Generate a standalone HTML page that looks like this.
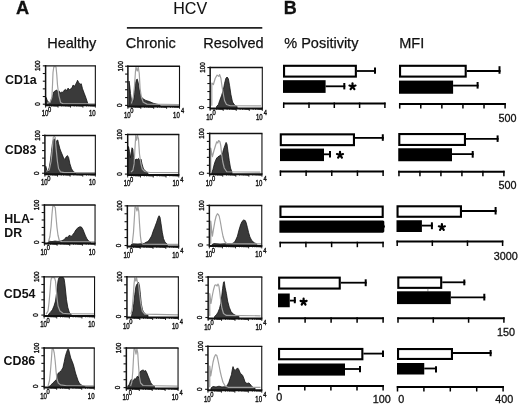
<!DOCTYPE html>
<html><head><meta charset="utf-8"><style>
html,body{margin:0;padding:0;background:#fff;}
body{width:520px;height:405px;overflow:hidden;}
svg{display:block;filter:grayscale(1) blur(0.3px);}
text{font-family:"Liberation Sans", sans-serif;fill:#111;}
</style></head><body>
<svg width="520" height="405" viewBox="0 0 520 405">
<rect width="520" height="405" fill="#fff"/>
<text x="15.95" y="14" font-size="18.2" font-weight="bold" stroke="#111" stroke-width="0.3">A</text>
<text x="283.80" y="14" font-size="18" font-weight="bold" stroke="#111" stroke-width="0.3">B</text>
<text x="173.29" y="14.2" font-size="16" font-weight="normal" stroke="#111" stroke-width="0.1">HCV</text>
<line x1="126.9" y1="27.9" x2="262.3" y2="27.9" stroke="#222" stroke-width="1.6"/>
<text x="47.21" y="48.4" font-size="14.5" font-weight="normal" stroke="#111" stroke-width="0.25">Healthy</text>
<text x="125.86" y="48.4" font-size="14.5" font-weight="normal" stroke="#111" stroke-width="0.25">Chronic</text>
<text x="203.21" y="48.4" font-size="14.5" font-weight="normal" stroke="#111" stroke-width="0.25">Resolved</text>
<text x="284.28" y="48.4" font-size="14.5" font-weight="normal" stroke="#111" stroke-width="0.25">% Positivity</text>
<text x="399.21" y="48.4" font-size="14.5" font-weight="normal" stroke="#111" stroke-width="0.25">MFI</text>
<text x="4.99" y="84" font-size="12.4" font-weight="bold" >CD1a</text>
<text x="4.69" y="153.6" font-size="12.4" font-weight="bold" >CD83</text>
<text x="4.37" y="222.6" font-size="12.4" font-weight="bold" >HLA-</text>
<text x="4.37" y="236.5" font-size="12.4" font-weight="bold" >DR</text>
<text x="3.79" y="297.6" font-size="12.4" font-weight="bold" >CD54</text>
<text x="3.49" y="365" font-size="12.4" font-weight="bold" >CD86</text>
<g id="hist">
<clipPath id="c00"><rect x="45.6" y="65.85" width="49.75" height="39.35"/></clipPath>
<g clip-path="url(#c00)">
<polygon points="46.00,106.2 46.00,103.50 46.20,97.50 47.50,101.25 50.00,103.00 52.50,96.25 53.75,91.90 55.60,90.60 56.90,90.00 58.10,92.50 59.40,91.25 60.60,93.10 61.90,91.90 63.10,92.50 64.40,90.00 65.60,89.40 66.90,90.60 68.10,88.10 69.40,90.00 70.60,88.75 71.90,88.10 73.10,85.00 74.40,86.25 75.60,84.40 76.90,81.90 77.50,80.25 78.75,82.50 80.00,84.40 81.25,83.75 82.50,88.75 84.40,93.75 86.25,98.75 87.75,103.50 87.75,106.2" fill="#3a3a3a" stroke="#111" stroke-width="0.8" stroke-linejoin="round"/>
<polyline points="46.90,103.10 50.00,102.50 51.90,97.50 52.50,85.00 53.00,72.50 53.80,66.75 56.00,66.75 56.80,75.00 57.50,85.00 58.75,95.00 60.60,102.50 63.00,103.80 95.00,103.80" fill="none" stroke="#a0a0a0" stroke-width="1.2" stroke-linejoin="round"/>
</g>
<path d="M45.60,65.10V106.10" stroke="#111" stroke-width="1.5"/>
<path d="M44.85,65.85H95.90" stroke="#111" stroke-width="1.4"/>
<path d="M95.35,65.85V105.20" stroke="#111" stroke-width="1.1"/>
<path d="M45.60,105.20H95.90" stroke="#111" stroke-width="2.0"/>
<line x1="42.80" y1="65.85" x2="45.60" y2="65.85" stroke="#111" stroke-width="1.1"/>
<line x1="42.80" y1="73.52" x2="45.60" y2="73.52" stroke="#111" stroke-width="1.1"/>
<line x1="42.80" y1="81.19" x2="45.60" y2="81.19" stroke="#111" stroke-width="1.1"/>
<line x1="42.80" y1="88.86" x2="45.60" y2="88.86" stroke="#111" stroke-width="1.1"/>
<line x1="42.80" y1="96.53" x2="45.60" y2="96.53" stroke="#111" stroke-width="1.1"/>
<line x1="42.80" y1="104.20" x2="45.60" y2="104.20" stroke="#111" stroke-width="1.1"/>
<line x1="45.60" y1="105.2" x2="45.60" y2="107.60000000000001" stroke="#111" stroke-width="0.9"/>
<line x1="49.34" y1="105.2" x2="49.34" y2="106.5" stroke="#111" stroke-width="0.9"/>
<line x1="51.53" y1="105.2" x2="51.53" y2="106.5" stroke="#111" stroke-width="0.9"/>
<line x1="53.09" y1="105.2" x2="53.09" y2="106.5" stroke="#111" stroke-width="0.9"/>
<line x1="54.29" y1="105.2" x2="54.29" y2="106.5" stroke="#111" stroke-width="0.9"/>
<line x1="55.28" y1="105.2" x2="55.28" y2="106.5" stroke="#111" stroke-width="0.9"/>
<line x1="56.11" y1="105.2" x2="56.11" y2="106.5" stroke="#111" stroke-width="0.9"/>
<line x1="56.83" y1="105.2" x2="56.83" y2="106.5" stroke="#111" stroke-width="0.9"/>
<line x1="57.47" y1="105.2" x2="57.47" y2="106.5" stroke="#111" stroke-width="0.9"/>
<line x1="58.04" y1="105.2" x2="58.04" y2="107.60000000000001" stroke="#111" stroke-width="0.9"/>
<line x1="61.78" y1="105.2" x2="61.78" y2="106.5" stroke="#111" stroke-width="0.9"/>
<line x1="63.97" y1="105.2" x2="63.97" y2="106.5" stroke="#111" stroke-width="0.9"/>
<line x1="65.53" y1="105.2" x2="65.53" y2="106.5" stroke="#111" stroke-width="0.9"/>
<line x1="66.73" y1="105.2" x2="66.73" y2="106.5" stroke="#111" stroke-width="0.9"/>
<line x1="67.72" y1="105.2" x2="67.72" y2="106.5" stroke="#111" stroke-width="0.9"/>
<line x1="68.55" y1="105.2" x2="68.55" y2="106.5" stroke="#111" stroke-width="0.9"/>
<line x1="69.27" y1="105.2" x2="69.27" y2="106.5" stroke="#111" stroke-width="0.9"/>
<line x1="69.91" y1="105.2" x2="69.91" y2="106.5" stroke="#111" stroke-width="0.9"/>
<line x1="70.47" y1="105.2" x2="70.47" y2="107.60000000000001" stroke="#111" stroke-width="0.9"/>
<line x1="74.22" y1="105.2" x2="74.22" y2="106.5" stroke="#111" stroke-width="0.9"/>
<line x1="76.41" y1="105.2" x2="76.41" y2="106.5" stroke="#111" stroke-width="0.9"/>
<line x1="77.96" y1="105.2" x2="77.96" y2="106.5" stroke="#111" stroke-width="0.9"/>
<line x1="79.17" y1="105.2" x2="79.17" y2="106.5" stroke="#111" stroke-width="0.9"/>
<line x1="80.15" y1="105.2" x2="80.15" y2="106.5" stroke="#111" stroke-width="0.9"/>
<line x1="80.99" y1="105.2" x2="80.99" y2="106.5" stroke="#111" stroke-width="0.9"/>
<line x1="81.71" y1="105.2" x2="81.71" y2="106.5" stroke="#111" stroke-width="0.9"/>
<line x1="82.34" y1="105.2" x2="82.34" y2="106.5" stroke="#111" stroke-width="0.9"/>
<line x1="82.91" y1="105.2" x2="82.91" y2="107.60000000000001" stroke="#111" stroke-width="0.9"/>
<line x1="86.66" y1="105.2" x2="86.66" y2="106.5" stroke="#111" stroke-width="0.9"/>
<line x1="88.85" y1="105.2" x2="88.85" y2="106.5" stroke="#111" stroke-width="0.9"/>
<line x1="90.40" y1="105.2" x2="90.40" y2="106.5" stroke="#111" stroke-width="0.9"/>
<line x1="91.61" y1="105.2" x2="91.61" y2="106.5" stroke="#111" stroke-width="0.9"/>
<line x1="92.59" y1="105.2" x2="92.59" y2="106.5" stroke="#111" stroke-width="0.9"/>
<line x1="93.42" y1="105.2" x2="93.42" y2="106.5" stroke="#111" stroke-width="0.9"/>
<line x1="94.14" y1="105.2" x2="94.14" y2="106.5" stroke="#111" stroke-width="0.9"/>
<line x1="94.78" y1="105.2" x2="94.78" y2="106.5" stroke="#111" stroke-width="0.9"/>
<line x1="95.35" y1="105.2" x2="95.35" y2="107.60000000000001" stroke="#111" stroke-width="0.9"/>
<text transform="translate(40.20,65.85) rotate(-90) scale(0.85,1)" font-size="7.4" stroke="#111" stroke-width="0.4" text-anchor="middle">100</text>
<text transform="translate(39.70,104.10) rotate(-90) scale(0.85,1)" font-size="7.4" stroke="#111" stroke-width="0.4" text-anchor="middle">0</text>
<text transform="translate(41.64,116.40) scale(0.74,1)" font-size="8.2" stroke="#111" stroke-width="0.4">10</text>
<text transform="translate(48.00,112.00) scale(0.9,1)" font-size="6.4" stroke="#111" stroke-width="0.35">0</text>
<text transform="translate(88.94,116.40) scale(0.74,1)" font-size="8.2" stroke="#111" stroke-width="0.4">10</text>
<clipPath id="c01"><rect x="127.9" y="66.25" width="51.60" height="40.15"/></clipPath>
<g clip-path="url(#c01)">
<polygon points="129.00,107.4 129.00,105.00 129.00,81.00 129.75,86.00 130.50,93.50 131.40,99.75 132.60,102.25 133.60,99.50 134.50,92.25 135.50,83.50 136.40,79.75 137.25,79.10 138.25,82.90 139.50,91.00 140.75,96.00 142.60,98.50 145.75,100.40 149.50,101.60 153.25,103.25 158.25,104.50 160.00,105.00 160.00,107.4" fill="#3a3a3a" stroke="#111" stroke-width="0.8" stroke-linejoin="round"/>
<polyline points="131.40,103.50 133.25,97.25 134.50,86.00 135.50,71.00 136.00,67.15 137.25,71.00 138.25,67.15 139.25,73.50 140.10,88.50 141.40,97.25 143.25,102.25 147.00,104.10 179.00,104.50" fill="none" stroke="#a0a0a0" stroke-width="1.2" stroke-linejoin="round"/>
</g>
<path d="M127.90,65.50V107.30" stroke="#111" stroke-width="1.5"/>
<path d="M127.15,66.25H180.05" stroke="#111" stroke-width="1.4"/>
<path d="M179.50,66.25V106.40" stroke="#111" stroke-width="1.1"/>
<path d="M127.90,106.40H180.05" stroke="#111" stroke-width="2.0"/>
<line x1="125.10" y1="66.25" x2="127.90" y2="66.25" stroke="#111" stroke-width="1.1"/>
<line x1="125.10" y1="74.08" x2="127.90" y2="74.08" stroke="#111" stroke-width="1.1"/>
<line x1="125.10" y1="81.91" x2="127.90" y2="81.91" stroke="#111" stroke-width="1.1"/>
<line x1="125.10" y1="89.74" x2="127.90" y2="89.74" stroke="#111" stroke-width="1.1"/>
<line x1="125.10" y1="97.57" x2="127.90" y2="97.57" stroke="#111" stroke-width="1.1"/>
<line x1="125.10" y1="105.40" x2="127.90" y2="105.40" stroke="#111" stroke-width="1.1"/>
<line x1="127.90" y1="106.4" x2="127.90" y2="108.80000000000001" stroke="#111" stroke-width="0.9"/>
<line x1="131.78" y1="106.4" x2="131.78" y2="107.7" stroke="#111" stroke-width="0.9"/>
<line x1="134.05" y1="106.4" x2="134.05" y2="107.7" stroke="#111" stroke-width="0.9"/>
<line x1="135.67" y1="106.4" x2="135.67" y2="107.7" stroke="#111" stroke-width="0.9"/>
<line x1="136.92" y1="106.4" x2="136.92" y2="107.7" stroke="#111" stroke-width="0.9"/>
<line x1="137.94" y1="106.4" x2="137.94" y2="107.7" stroke="#111" stroke-width="0.9"/>
<line x1="138.80" y1="106.4" x2="138.80" y2="107.7" stroke="#111" stroke-width="0.9"/>
<line x1="139.55" y1="106.4" x2="139.55" y2="107.7" stroke="#111" stroke-width="0.9"/>
<line x1="140.21" y1="106.4" x2="140.21" y2="107.7" stroke="#111" stroke-width="0.9"/>
<line x1="140.80" y1="106.4" x2="140.80" y2="108.80000000000001" stroke="#111" stroke-width="0.9"/>
<line x1="144.68" y1="106.4" x2="144.68" y2="107.7" stroke="#111" stroke-width="0.9"/>
<line x1="146.95" y1="106.4" x2="146.95" y2="107.7" stroke="#111" stroke-width="0.9"/>
<line x1="148.57" y1="106.4" x2="148.57" y2="107.7" stroke="#111" stroke-width="0.9"/>
<line x1="149.82" y1="106.4" x2="149.82" y2="107.7" stroke="#111" stroke-width="0.9"/>
<line x1="150.84" y1="106.4" x2="150.84" y2="107.7" stroke="#111" stroke-width="0.9"/>
<line x1="151.70" y1="106.4" x2="151.70" y2="107.7" stroke="#111" stroke-width="0.9"/>
<line x1="152.45" y1="106.4" x2="152.45" y2="107.7" stroke="#111" stroke-width="0.9"/>
<line x1="153.11" y1="106.4" x2="153.11" y2="107.7" stroke="#111" stroke-width="0.9"/>
<line x1="153.70" y1="106.4" x2="153.70" y2="108.80000000000001" stroke="#111" stroke-width="0.9"/>
<line x1="157.58" y1="106.4" x2="157.58" y2="107.7" stroke="#111" stroke-width="0.9"/>
<line x1="159.85" y1="106.4" x2="159.85" y2="107.7" stroke="#111" stroke-width="0.9"/>
<line x1="161.47" y1="106.4" x2="161.47" y2="107.7" stroke="#111" stroke-width="0.9"/>
<line x1="162.72" y1="106.4" x2="162.72" y2="107.7" stroke="#111" stroke-width="0.9"/>
<line x1="163.74" y1="106.4" x2="163.74" y2="107.7" stroke="#111" stroke-width="0.9"/>
<line x1="164.60" y1="106.4" x2="164.60" y2="107.7" stroke="#111" stroke-width="0.9"/>
<line x1="165.35" y1="106.4" x2="165.35" y2="107.7" stroke="#111" stroke-width="0.9"/>
<line x1="166.01" y1="106.4" x2="166.01" y2="107.7" stroke="#111" stroke-width="0.9"/>
<line x1="166.60" y1="106.4" x2="166.60" y2="108.80000000000001" stroke="#111" stroke-width="0.9"/>
<line x1="170.48" y1="106.4" x2="170.48" y2="107.7" stroke="#111" stroke-width="0.9"/>
<line x1="172.75" y1="106.4" x2="172.75" y2="107.7" stroke="#111" stroke-width="0.9"/>
<line x1="174.37" y1="106.4" x2="174.37" y2="107.7" stroke="#111" stroke-width="0.9"/>
<line x1="175.62" y1="106.4" x2="175.62" y2="107.7" stroke="#111" stroke-width="0.9"/>
<line x1="176.64" y1="106.4" x2="176.64" y2="107.7" stroke="#111" stroke-width="0.9"/>
<line x1="177.50" y1="106.4" x2="177.50" y2="107.7" stroke="#111" stroke-width="0.9"/>
<line x1="178.25" y1="106.4" x2="178.25" y2="107.7" stroke="#111" stroke-width="0.9"/>
<line x1="178.91" y1="106.4" x2="178.91" y2="107.7" stroke="#111" stroke-width="0.9"/>
<line x1="179.50" y1="106.4" x2="179.50" y2="108.80000000000001" stroke="#111" stroke-width="0.9"/>
<text transform="translate(122.50,66.25) rotate(-90) scale(0.85,1)" font-size="7.4" stroke="#111" stroke-width="0.4" text-anchor="middle">100</text>
<text transform="translate(122.00,105.30) rotate(-90) scale(0.85,1)" font-size="7.4" stroke="#111" stroke-width="0.4" text-anchor="middle">0</text>
<text transform="translate(123.94,117.60) scale(0.74,1)" font-size="8.2" stroke="#111" stroke-width="0.4">10</text>
<text transform="translate(130.30,113.20) scale(0.9,1)" font-size="6.4" stroke="#111" stroke-width="0.35">0</text>
<text transform="translate(173.09,117.60) scale(0.74,1)" font-size="8.2" stroke="#111" stroke-width="0.4">10</text>
<text transform="translate(181.00,113.20) scale(0.9,1)" font-size="6.4" stroke="#111" stroke-width="0.35">4</text>
<clipPath id="c02"><rect x="210.15" y="67.55" width="52.15" height="40.95"/></clipPath>
<g clip-path="url(#c02)">
<polygon points="216.50,109.5 216.50,106.60 218.40,104.50 219.60,100.75 221.50,95.75 223.40,89.50 224.60,83.25 225.90,78.25 227.10,77.00 228.40,78.90 229.60,85.75 230.90,94.50 232.50,102.00 234.60,105.10 237.10,106.40 237.10,109.5" fill="#3a3a3a" stroke="#111" stroke-width="0.8" stroke-linejoin="round"/>
<polyline points="211.80,105.75 211.80,83.00 213.40,84.50 215.25,78.25 217.10,75.10 218.75,76.40 219.60,74.50 220.90,78.25 222.10,87.00 223.40,94.50 224.60,100.75 226.50,104.50 230.25,105.75 261.00,105.90" fill="none" stroke="#a0a0a0" stroke-width="1.2" stroke-linejoin="round"/>
</g>
<path d="M210.15,66.80V109.40" stroke="#111" stroke-width="1.5"/>
<path d="M209.40,67.55H262.85" stroke="#111" stroke-width="1.4"/>
<path d="M262.30,67.55V108.50" stroke="#111" stroke-width="1.1"/>
<path d="M210.15,108.50H262.85" stroke="#111" stroke-width="2.0"/>
<line x1="207.35" y1="67.55" x2="210.15" y2="67.55" stroke="#111" stroke-width="1.1"/>
<line x1="207.35" y1="75.54" x2="210.15" y2="75.54" stroke="#111" stroke-width="1.1"/>
<line x1="207.35" y1="83.53" x2="210.15" y2="83.53" stroke="#111" stroke-width="1.1"/>
<line x1="207.35" y1="91.52" x2="210.15" y2="91.52" stroke="#111" stroke-width="1.1"/>
<line x1="207.35" y1="99.51" x2="210.15" y2="99.51" stroke="#111" stroke-width="1.1"/>
<line x1="207.35" y1="107.50" x2="210.15" y2="107.50" stroke="#111" stroke-width="1.1"/>
<line x1="210.15" y1="108.5" x2="210.15" y2="110.9" stroke="#111" stroke-width="0.9"/>
<line x1="214.07" y1="108.5" x2="214.07" y2="109.8" stroke="#111" stroke-width="0.9"/>
<line x1="216.37" y1="108.5" x2="216.37" y2="109.8" stroke="#111" stroke-width="0.9"/>
<line x1="218.00" y1="108.5" x2="218.00" y2="109.8" stroke="#111" stroke-width="0.9"/>
<line x1="219.26" y1="108.5" x2="219.26" y2="109.8" stroke="#111" stroke-width="0.9"/>
<line x1="220.30" y1="108.5" x2="220.30" y2="109.8" stroke="#111" stroke-width="0.9"/>
<line x1="221.17" y1="108.5" x2="221.17" y2="109.8" stroke="#111" stroke-width="0.9"/>
<line x1="221.92" y1="108.5" x2="221.92" y2="109.8" stroke="#111" stroke-width="0.9"/>
<line x1="222.59" y1="108.5" x2="222.59" y2="109.8" stroke="#111" stroke-width="0.9"/>
<line x1="223.19" y1="108.5" x2="223.19" y2="110.9" stroke="#111" stroke-width="0.9"/>
<line x1="227.11" y1="108.5" x2="227.11" y2="109.8" stroke="#111" stroke-width="0.9"/>
<line x1="229.41" y1="108.5" x2="229.41" y2="109.8" stroke="#111" stroke-width="0.9"/>
<line x1="231.04" y1="108.5" x2="231.04" y2="109.8" stroke="#111" stroke-width="0.9"/>
<line x1="232.30" y1="108.5" x2="232.30" y2="109.8" stroke="#111" stroke-width="0.9"/>
<line x1="233.33" y1="108.5" x2="233.33" y2="109.8" stroke="#111" stroke-width="0.9"/>
<line x1="234.21" y1="108.5" x2="234.21" y2="109.8" stroke="#111" stroke-width="0.9"/>
<line x1="234.96" y1="108.5" x2="234.96" y2="109.8" stroke="#111" stroke-width="0.9"/>
<line x1="235.63" y1="108.5" x2="235.63" y2="109.8" stroke="#111" stroke-width="0.9"/>
<line x1="236.23" y1="108.5" x2="236.23" y2="110.9" stroke="#111" stroke-width="0.9"/>
<line x1="240.15" y1="108.5" x2="240.15" y2="109.8" stroke="#111" stroke-width="0.9"/>
<line x1="242.45" y1="108.5" x2="242.45" y2="109.8" stroke="#111" stroke-width="0.9"/>
<line x1="244.07" y1="108.5" x2="244.07" y2="109.8" stroke="#111" stroke-width="0.9"/>
<line x1="245.34" y1="108.5" x2="245.34" y2="109.8" stroke="#111" stroke-width="0.9"/>
<line x1="246.37" y1="108.5" x2="246.37" y2="109.8" stroke="#111" stroke-width="0.9"/>
<line x1="247.24" y1="108.5" x2="247.24" y2="109.8" stroke="#111" stroke-width="0.9"/>
<line x1="248.00" y1="108.5" x2="248.00" y2="109.8" stroke="#111" stroke-width="0.9"/>
<line x1="248.67" y1="108.5" x2="248.67" y2="109.8" stroke="#111" stroke-width="0.9"/>
<line x1="249.26" y1="108.5" x2="249.26" y2="110.9" stroke="#111" stroke-width="0.9"/>
<line x1="253.19" y1="108.5" x2="253.19" y2="109.8" stroke="#111" stroke-width="0.9"/>
<line x1="255.48" y1="108.5" x2="255.48" y2="109.8" stroke="#111" stroke-width="0.9"/>
<line x1="257.11" y1="108.5" x2="257.11" y2="109.8" stroke="#111" stroke-width="0.9"/>
<line x1="258.38" y1="108.5" x2="258.38" y2="109.8" stroke="#111" stroke-width="0.9"/>
<line x1="259.41" y1="108.5" x2="259.41" y2="109.8" stroke="#111" stroke-width="0.9"/>
<line x1="260.28" y1="108.5" x2="260.28" y2="109.8" stroke="#111" stroke-width="0.9"/>
<line x1="261.04" y1="108.5" x2="261.04" y2="109.8" stroke="#111" stroke-width="0.9"/>
<line x1="261.70" y1="108.5" x2="261.70" y2="109.8" stroke="#111" stroke-width="0.9"/>
<line x1="262.30" y1="108.5" x2="262.30" y2="110.9" stroke="#111" stroke-width="0.9"/>
<text transform="translate(204.75,67.55) rotate(-90) scale(0.85,1)" font-size="7.4" stroke="#111" stroke-width="0.4" text-anchor="middle">100</text>
<text transform="translate(204.25,107.40) rotate(-90) scale(0.85,1)" font-size="7.4" stroke="#111" stroke-width="0.4" text-anchor="middle">0</text>
<text transform="translate(206.19,119.70) scale(0.74,1)" font-size="8.2" stroke="#111" stroke-width="0.4">10</text>
<text transform="translate(212.55,115.30) scale(0.9,1)" font-size="6.4" stroke="#111" stroke-width="0.35">0</text>
<text transform="translate(255.89,119.70) scale(0.74,1)" font-size="8.2" stroke="#111" stroke-width="0.4">10</text>
<text transform="translate(263.80,115.30) scale(0.9,1)" font-size="6.4" stroke="#111" stroke-width="0.35">4</text>
<clipPath id="c10"><rect x="44.9" y="135.45" width="50.45" height="38.80"/></clipPath>
<g clip-path="url(#c10)">
<polygon points="45.75,175.25 45.75,172.60 45.75,166.25 46.75,170.00 48.00,171.25 49.25,167.50 50.50,160.00 51.50,151.25 52.40,143.75 53.25,140.00 54.25,138.75 55.25,141.25 56.10,143.75 56.75,140.60 57.75,140.00 58.60,143.75 59.90,148.75 61.10,151.90 62.40,155.00 63.60,158.10 64.90,159.40 66.10,156.90 67.40,155.60 68.60,157.50 69.90,163.75 71.50,168.75 73.60,171.90 75.50,172.75 75.50,175.25" fill="#3a3a3a" stroke="#111" stroke-width="0.8" stroke-linejoin="round"/>
<polyline points="46.10,171.25 49.25,170.00 51.10,161.25 52.40,148.75 53.25,137.35 54.25,136.35 55.25,137.35 56.10,148.75 57.40,161.25 58.60,168.75 60.50,171.90 64.25,172.60 95.00,172.60" fill="none" stroke="#a0a0a0" stroke-width="1.2" stroke-linejoin="round"/>
</g>
<path d="M44.90,134.70V175.15" stroke="#111" stroke-width="1.5"/>
<path d="M44.15,135.45H95.90" stroke="#111" stroke-width="1.4"/>
<path d="M95.35,135.45V174.25" stroke="#111" stroke-width="1.1"/>
<path d="M44.90,174.25H95.90" stroke="#111" stroke-width="2.0"/>
<line x1="42.10" y1="135.45" x2="44.90" y2="135.45" stroke="#111" stroke-width="1.1"/>
<line x1="42.10" y1="143.01" x2="44.90" y2="143.01" stroke="#111" stroke-width="1.1"/>
<line x1="42.10" y1="150.57" x2="44.90" y2="150.57" stroke="#111" stroke-width="1.1"/>
<line x1="42.10" y1="158.13" x2="44.90" y2="158.13" stroke="#111" stroke-width="1.1"/>
<line x1="42.10" y1="165.69" x2="44.90" y2="165.69" stroke="#111" stroke-width="1.1"/>
<line x1="42.10" y1="173.25" x2="44.90" y2="173.25" stroke="#111" stroke-width="1.1"/>
<line x1="44.90" y1="174.25" x2="44.90" y2="176.65" stroke="#111" stroke-width="0.9"/>
<line x1="48.70" y1="174.25" x2="48.70" y2="175.55" stroke="#111" stroke-width="0.9"/>
<line x1="50.92" y1="174.25" x2="50.92" y2="175.55" stroke="#111" stroke-width="0.9"/>
<line x1="52.49" y1="174.25" x2="52.49" y2="175.55" stroke="#111" stroke-width="0.9"/>
<line x1="53.72" y1="174.25" x2="53.72" y2="175.55" stroke="#111" stroke-width="0.9"/>
<line x1="54.71" y1="174.25" x2="54.71" y2="175.55" stroke="#111" stroke-width="0.9"/>
<line x1="55.56" y1="174.25" x2="55.56" y2="175.55" stroke="#111" stroke-width="0.9"/>
<line x1="56.29" y1="174.25" x2="56.29" y2="175.55" stroke="#111" stroke-width="0.9"/>
<line x1="56.94" y1="174.25" x2="56.94" y2="175.55" stroke="#111" stroke-width="0.9"/>
<line x1="57.51" y1="174.25" x2="57.51" y2="176.65" stroke="#111" stroke-width="0.9"/>
<line x1="61.31" y1="174.25" x2="61.31" y2="175.55" stroke="#111" stroke-width="0.9"/>
<line x1="63.53" y1="174.25" x2="63.53" y2="175.55" stroke="#111" stroke-width="0.9"/>
<line x1="65.11" y1="174.25" x2="65.11" y2="175.55" stroke="#111" stroke-width="0.9"/>
<line x1="66.33" y1="174.25" x2="66.33" y2="175.55" stroke="#111" stroke-width="0.9"/>
<line x1="67.33" y1="174.25" x2="67.33" y2="175.55" stroke="#111" stroke-width="0.9"/>
<line x1="68.17" y1="174.25" x2="68.17" y2="175.55" stroke="#111" stroke-width="0.9"/>
<line x1="68.90" y1="174.25" x2="68.90" y2="175.55" stroke="#111" stroke-width="0.9"/>
<line x1="69.55" y1="174.25" x2="69.55" y2="175.55" stroke="#111" stroke-width="0.9"/>
<line x1="70.12" y1="174.25" x2="70.12" y2="176.65" stroke="#111" stroke-width="0.9"/>
<line x1="73.92" y1="174.25" x2="73.92" y2="175.55" stroke="#111" stroke-width="0.9"/>
<line x1="76.14" y1="174.25" x2="76.14" y2="175.55" stroke="#111" stroke-width="0.9"/>
<line x1="77.72" y1="174.25" x2="77.72" y2="175.55" stroke="#111" stroke-width="0.9"/>
<line x1="78.94" y1="174.25" x2="78.94" y2="175.55" stroke="#111" stroke-width="0.9"/>
<line x1="79.94" y1="174.25" x2="79.94" y2="175.55" stroke="#111" stroke-width="0.9"/>
<line x1="80.78" y1="174.25" x2="80.78" y2="175.55" stroke="#111" stroke-width="0.9"/>
<line x1="81.52" y1="174.25" x2="81.52" y2="175.55" stroke="#111" stroke-width="0.9"/>
<line x1="82.16" y1="174.25" x2="82.16" y2="175.55" stroke="#111" stroke-width="0.9"/>
<line x1="82.74" y1="174.25" x2="82.74" y2="176.65" stroke="#111" stroke-width="0.9"/>
<line x1="86.53" y1="174.25" x2="86.53" y2="175.55" stroke="#111" stroke-width="0.9"/>
<line x1="88.76" y1="174.25" x2="88.76" y2="175.55" stroke="#111" stroke-width="0.9"/>
<line x1="90.33" y1="174.25" x2="90.33" y2="175.55" stroke="#111" stroke-width="0.9"/>
<line x1="91.55" y1="174.25" x2="91.55" y2="175.55" stroke="#111" stroke-width="0.9"/>
<line x1="92.55" y1="174.25" x2="92.55" y2="175.55" stroke="#111" stroke-width="0.9"/>
<line x1="93.40" y1="174.25" x2="93.40" y2="175.55" stroke="#111" stroke-width="0.9"/>
<line x1="94.13" y1="174.25" x2="94.13" y2="175.55" stroke="#111" stroke-width="0.9"/>
<line x1="94.77" y1="174.25" x2="94.77" y2="175.55" stroke="#111" stroke-width="0.9"/>
<line x1="95.35" y1="174.25" x2="95.35" y2="176.65" stroke="#111" stroke-width="0.9"/>
<text transform="translate(39.50,135.45) rotate(-90) scale(0.85,1)" font-size="7.4" stroke="#111" stroke-width="0.4" text-anchor="middle">100</text>
<text transform="translate(39.00,173.15) rotate(-90) scale(0.85,1)" font-size="7.4" stroke="#111" stroke-width="0.4" text-anchor="middle">0</text>
<text transform="translate(40.94,185.45) scale(0.74,1)" font-size="8.2" stroke="#111" stroke-width="0.4">10</text>
<text transform="translate(47.30,181.05) scale(0.9,1)" font-size="6.4" stroke="#111" stroke-width="0.35">0</text>
<text transform="translate(88.94,185.45) scale(0.74,1)" font-size="8.2" stroke="#111" stroke-width="0.4">10</text>
<clipPath id="c11"><rect x="127.7" y="134.55" width="51.10" height="40.55"/></clipPath>
<g clip-path="url(#c11)">
<polygon points="128.50,176.1 128.50,173.00 128.50,146.50 129.50,151.50 130.40,157.75 131.00,154.00 132.00,147.75 132.90,149.00 133.50,157.75 134.10,164.00 135.00,160.25 136.00,159.00 137.25,159.60 138.50,158.40 139.75,160.25 141.00,159.00 142.00,164.00 143.50,169.00 146.00,171.50 147.90,172.75 147.90,176.1" fill="#3a3a3a" stroke="#111" stroke-width="0.8" stroke-linejoin="round"/>
<polyline points="131.00,172.10 132.90,170.25 134.10,164.00 135.00,147.75 135.75,135.45 136.60,140.25 137.50,135.45 138.50,139.00 139.50,154.00 140.75,162.75 142.25,169.00 144.75,171.50 149.75,172.50 178.50,172.70" fill="none" stroke="#a0a0a0" stroke-width="1.2" stroke-linejoin="round"/>
</g>
<path d="M127.70,133.80V176.00" stroke="#111" stroke-width="1.5"/>
<path d="M126.95,134.55H179.35" stroke="#111" stroke-width="1.4"/>
<path d="M178.80,134.55V175.10" stroke="#111" stroke-width="1.1"/>
<path d="M127.70,175.10H179.35" stroke="#111" stroke-width="2.0"/>
<line x1="124.90" y1="134.55" x2="127.70" y2="134.55" stroke="#111" stroke-width="1.1"/>
<line x1="124.90" y1="142.46" x2="127.70" y2="142.46" stroke="#111" stroke-width="1.1"/>
<line x1="124.90" y1="150.37" x2="127.70" y2="150.37" stroke="#111" stroke-width="1.1"/>
<line x1="124.90" y1="158.28" x2="127.70" y2="158.28" stroke="#111" stroke-width="1.1"/>
<line x1="124.90" y1="166.19" x2="127.70" y2="166.19" stroke="#111" stroke-width="1.1"/>
<line x1="124.90" y1="174.10" x2="127.70" y2="174.10" stroke="#111" stroke-width="1.1"/>
<line x1="127.70" y1="175.1" x2="127.70" y2="177.5" stroke="#111" stroke-width="0.9"/>
<line x1="131.55" y1="175.1" x2="131.55" y2="176.4" stroke="#111" stroke-width="0.9"/>
<line x1="133.80" y1="175.1" x2="133.80" y2="176.4" stroke="#111" stroke-width="0.9"/>
<line x1="135.39" y1="175.1" x2="135.39" y2="176.4" stroke="#111" stroke-width="0.9"/>
<line x1="136.63" y1="175.1" x2="136.63" y2="176.4" stroke="#111" stroke-width="0.9"/>
<line x1="137.64" y1="175.1" x2="137.64" y2="176.4" stroke="#111" stroke-width="0.9"/>
<line x1="138.50" y1="175.1" x2="138.50" y2="176.4" stroke="#111" stroke-width="0.9"/>
<line x1="139.24" y1="175.1" x2="139.24" y2="176.4" stroke="#111" stroke-width="0.9"/>
<line x1="139.89" y1="175.1" x2="139.89" y2="176.4" stroke="#111" stroke-width="0.9"/>
<line x1="140.47" y1="175.1" x2="140.47" y2="177.5" stroke="#111" stroke-width="0.9"/>
<line x1="144.32" y1="175.1" x2="144.32" y2="176.4" stroke="#111" stroke-width="0.9"/>
<line x1="146.57" y1="175.1" x2="146.57" y2="176.4" stroke="#111" stroke-width="0.9"/>
<line x1="148.17" y1="175.1" x2="148.17" y2="176.4" stroke="#111" stroke-width="0.9"/>
<line x1="149.40" y1="175.1" x2="149.40" y2="176.4" stroke="#111" stroke-width="0.9"/>
<line x1="150.42" y1="175.1" x2="150.42" y2="176.4" stroke="#111" stroke-width="0.9"/>
<line x1="151.27" y1="175.1" x2="151.27" y2="176.4" stroke="#111" stroke-width="0.9"/>
<line x1="152.01" y1="175.1" x2="152.01" y2="176.4" stroke="#111" stroke-width="0.9"/>
<line x1="152.67" y1="175.1" x2="152.67" y2="176.4" stroke="#111" stroke-width="0.9"/>
<line x1="153.25" y1="175.1" x2="153.25" y2="177.5" stroke="#111" stroke-width="0.9"/>
<line x1="157.10" y1="175.1" x2="157.10" y2="176.4" stroke="#111" stroke-width="0.9"/>
<line x1="159.35" y1="175.1" x2="159.35" y2="176.4" stroke="#111" stroke-width="0.9"/>
<line x1="160.94" y1="175.1" x2="160.94" y2="176.4" stroke="#111" stroke-width="0.9"/>
<line x1="162.18" y1="175.1" x2="162.18" y2="176.4" stroke="#111" stroke-width="0.9"/>
<line x1="163.19" y1="175.1" x2="163.19" y2="176.4" stroke="#111" stroke-width="0.9"/>
<line x1="164.05" y1="175.1" x2="164.05" y2="176.4" stroke="#111" stroke-width="0.9"/>
<line x1="164.79" y1="175.1" x2="164.79" y2="176.4" stroke="#111" stroke-width="0.9"/>
<line x1="165.44" y1="175.1" x2="165.44" y2="176.4" stroke="#111" stroke-width="0.9"/>
<line x1="166.03" y1="175.1" x2="166.03" y2="177.5" stroke="#111" stroke-width="0.9"/>
<line x1="169.87" y1="175.1" x2="169.87" y2="176.4" stroke="#111" stroke-width="0.9"/>
<line x1="172.12" y1="175.1" x2="172.12" y2="176.4" stroke="#111" stroke-width="0.9"/>
<line x1="173.72" y1="175.1" x2="173.72" y2="176.4" stroke="#111" stroke-width="0.9"/>
<line x1="174.95" y1="175.1" x2="174.95" y2="176.4" stroke="#111" stroke-width="0.9"/>
<line x1="175.97" y1="175.1" x2="175.97" y2="176.4" stroke="#111" stroke-width="0.9"/>
<line x1="176.82" y1="175.1" x2="176.82" y2="176.4" stroke="#111" stroke-width="0.9"/>
<line x1="177.56" y1="175.1" x2="177.56" y2="176.4" stroke="#111" stroke-width="0.9"/>
<line x1="178.22" y1="175.1" x2="178.22" y2="176.4" stroke="#111" stroke-width="0.9"/>
<line x1="178.80" y1="175.1" x2="178.80" y2="177.5" stroke="#111" stroke-width="0.9"/>
<text transform="translate(122.30,134.55) rotate(-90) scale(0.85,1)" font-size="7.4" stroke="#111" stroke-width="0.4" text-anchor="middle">100</text>
<text transform="translate(121.80,174.00) rotate(-90) scale(0.85,1)" font-size="7.4" stroke="#111" stroke-width="0.4" text-anchor="middle">0</text>
<text transform="translate(123.74,186.30) scale(0.74,1)" font-size="8.2" stroke="#111" stroke-width="0.4">10</text>
<text transform="translate(130.10,181.90) scale(0.9,1)" font-size="6.4" stroke="#111" stroke-width="0.35">0</text>
<text transform="translate(172.39,186.30) scale(0.74,1)" font-size="8.2" stroke="#111" stroke-width="0.4">10</text>
<text transform="translate(180.30,181.90) scale(0.9,1)" font-size="6.4" stroke="#111" stroke-width="0.35">4</text>
<clipPath id="c12"><rect x="209.65" y="133.45" width="52.30" height="40.85"/></clipPath>
<g clip-path="url(#c12)">
<polygon points="211.75,175.3 211.75,173.00 213.00,169.25 214.25,164.25 215.50,160.50 216.75,158.00 218.00,156.75 219.25,156.10 220.50,154.90 221.75,156.75 222.75,152.40 223.60,149.25 224.90,145.50 226.10,142.40 227.00,144.25 228.00,151.75 229.25,160.50 230.50,168.00 232.00,172.20 232.00,175.3" fill="#3a3a3a" stroke="#111" stroke-width="0.8" stroke-linejoin="round"/>
<polyline points="210.75,172.40 210.75,148.00 212.40,156.75 214.00,150.50 215.50,145.50 216.75,141.75 217.75,143.00 218.60,140.50 219.90,141.75 220.75,145.50 221.75,154.90 222.75,161.75 224.25,168.00 226.75,171.75 260.50,172.20" fill="none" stroke="#a0a0a0" stroke-width="1.2" stroke-linejoin="round"/>
</g>
<path d="M209.65,132.70V175.20" stroke="#111" stroke-width="1.5"/>
<path d="M208.90,133.45H262.50" stroke="#111" stroke-width="1.4"/>
<path d="M261.95,133.45V174.30" stroke="#111" stroke-width="1.1"/>
<path d="M209.65,174.30H262.50" stroke="#111" stroke-width="2.0"/>
<line x1="206.85" y1="133.45" x2="209.65" y2="133.45" stroke="#111" stroke-width="1.1"/>
<line x1="206.85" y1="141.42" x2="209.65" y2="141.42" stroke="#111" stroke-width="1.1"/>
<line x1="206.85" y1="149.39" x2="209.65" y2="149.39" stroke="#111" stroke-width="1.1"/>
<line x1="206.85" y1="157.36" x2="209.65" y2="157.36" stroke="#111" stroke-width="1.1"/>
<line x1="206.85" y1="165.33" x2="209.65" y2="165.33" stroke="#111" stroke-width="1.1"/>
<line x1="206.85" y1="173.30" x2="209.65" y2="173.30" stroke="#111" stroke-width="1.1"/>
<line x1="209.65" y1="174.3" x2="209.65" y2="176.70000000000002" stroke="#111" stroke-width="0.9"/>
<line x1="213.59" y1="174.3" x2="213.59" y2="175.60000000000002" stroke="#111" stroke-width="0.9"/>
<line x1="215.89" y1="174.3" x2="215.89" y2="175.60000000000002" stroke="#111" stroke-width="0.9"/>
<line x1="217.52" y1="174.3" x2="217.52" y2="175.60000000000002" stroke="#111" stroke-width="0.9"/>
<line x1="218.79" y1="174.3" x2="218.79" y2="175.60000000000002" stroke="#111" stroke-width="0.9"/>
<line x1="219.82" y1="174.3" x2="219.82" y2="175.60000000000002" stroke="#111" stroke-width="0.9"/>
<line x1="220.70" y1="174.3" x2="220.70" y2="175.60000000000002" stroke="#111" stroke-width="0.9"/>
<line x1="221.46" y1="174.3" x2="221.46" y2="175.60000000000002" stroke="#111" stroke-width="0.9"/>
<line x1="222.13" y1="174.3" x2="222.13" y2="175.60000000000002" stroke="#111" stroke-width="0.9"/>
<line x1="222.72" y1="174.3" x2="222.72" y2="176.70000000000002" stroke="#111" stroke-width="0.9"/>
<line x1="226.66" y1="174.3" x2="226.66" y2="175.60000000000002" stroke="#111" stroke-width="0.9"/>
<line x1="228.96" y1="174.3" x2="228.96" y2="175.60000000000002" stroke="#111" stroke-width="0.9"/>
<line x1="230.60" y1="174.3" x2="230.60" y2="175.60000000000002" stroke="#111" stroke-width="0.9"/>
<line x1="231.86" y1="174.3" x2="231.86" y2="175.60000000000002" stroke="#111" stroke-width="0.9"/>
<line x1="232.90" y1="174.3" x2="232.90" y2="175.60000000000002" stroke="#111" stroke-width="0.9"/>
<line x1="233.77" y1="174.3" x2="233.77" y2="175.60000000000002" stroke="#111" stroke-width="0.9"/>
<line x1="234.53" y1="174.3" x2="234.53" y2="175.60000000000002" stroke="#111" stroke-width="0.9"/>
<line x1="235.20" y1="174.3" x2="235.20" y2="175.60000000000002" stroke="#111" stroke-width="0.9"/>
<line x1="235.80" y1="174.3" x2="235.80" y2="176.70000000000002" stroke="#111" stroke-width="0.9"/>
<line x1="239.74" y1="174.3" x2="239.74" y2="175.60000000000002" stroke="#111" stroke-width="0.9"/>
<line x1="242.04" y1="174.3" x2="242.04" y2="175.60000000000002" stroke="#111" stroke-width="0.9"/>
<line x1="243.67" y1="174.3" x2="243.67" y2="175.60000000000002" stroke="#111" stroke-width="0.9"/>
<line x1="244.94" y1="174.3" x2="244.94" y2="175.60000000000002" stroke="#111" stroke-width="0.9"/>
<line x1="245.97" y1="174.3" x2="245.97" y2="175.60000000000002" stroke="#111" stroke-width="0.9"/>
<line x1="246.85" y1="174.3" x2="246.85" y2="175.60000000000002" stroke="#111" stroke-width="0.9"/>
<line x1="247.61" y1="174.3" x2="247.61" y2="175.60000000000002" stroke="#111" stroke-width="0.9"/>
<line x1="248.28" y1="174.3" x2="248.28" y2="175.60000000000002" stroke="#111" stroke-width="0.9"/>
<line x1="248.88" y1="174.3" x2="248.88" y2="176.70000000000002" stroke="#111" stroke-width="0.9"/>
<line x1="252.81" y1="174.3" x2="252.81" y2="175.60000000000002" stroke="#111" stroke-width="0.9"/>
<line x1="255.11" y1="174.3" x2="255.11" y2="175.60000000000002" stroke="#111" stroke-width="0.9"/>
<line x1="256.75" y1="174.3" x2="256.75" y2="175.60000000000002" stroke="#111" stroke-width="0.9"/>
<line x1="258.01" y1="174.3" x2="258.01" y2="175.60000000000002" stroke="#111" stroke-width="0.9"/>
<line x1="259.05" y1="174.3" x2="259.05" y2="175.60000000000002" stroke="#111" stroke-width="0.9"/>
<line x1="259.92" y1="174.3" x2="259.92" y2="175.60000000000002" stroke="#111" stroke-width="0.9"/>
<line x1="260.68" y1="174.3" x2="260.68" y2="175.60000000000002" stroke="#111" stroke-width="0.9"/>
<line x1="261.35" y1="174.3" x2="261.35" y2="175.60000000000002" stroke="#111" stroke-width="0.9"/>
<line x1="261.95" y1="174.3" x2="261.95" y2="176.70000000000002" stroke="#111" stroke-width="0.9"/>
<text transform="translate(204.25,133.45) rotate(-90) scale(0.85,1)" font-size="7.4" stroke="#111" stroke-width="0.4" text-anchor="middle">100</text>
<text transform="translate(203.75,173.20) rotate(-90) scale(0.85,1)" font-size="7.4" stroke="#111" stroke-width="0.4" text-anchor="middle">0</text>
<text transform="translate(205.69,185.50) scale(0.74,1)" font-size="8.2" stroke="#111" stroke-width="0.4">10</text>
<text transform="translate(212.05,181.10) scale(0.9,1)" font-size="6.4" stroke="#111" stroke-width="0.35">0</text>
<text transform="translate(255.54,185.50) scale(0.74,1)" font-size="8.2" stroke="#111" stroke-width="0.4">10</text>
<text transform="translate(263.45,181.10) scale(0.9,1)" font-size="6.4" stroke="#111" stroke-width="0.35">4</text>
<clipPath id="c20"><rect x="44.45" y="205.05" width="50.60" height="38.35"/></clipPath>
<g clip-path="url(#c20)">
<polygon points="48.00,244.4 48.00,242.50 49.00,241.20 52.00,241.60 55.00,241.00 58.00,241.40 61.10,240.90 63.00,240.25 64.90,239.00 66.10,237.10 67.40,237.75 68.60,235.90 69.90,235.25 71.10,236.50 72.40,235.25 74.25,232.75 76.10,229.60 78.00,227.75 79.90,226.75 81.50,227.10 83.00,229.60 84.25,232.75 85.50,235.90 87.00,239.00 88.60,240.90 90.50,242.00 90.50,244.4" fill="#3a3a3a" stroke="#111" stroke-width="0.8" stroke-linejoin="round"/>
<polyline points="48.60,241.50 49.90,236.50 51.10,226.50 52.00,214.00 52.75,206.35 54.00,205.95 55.25,207.60 56.10,217.75 57.00,227.75 58.00,235.25 59.25,240.25 61.75,241.75 95.00,241.90" fill="none" stroke="#a0a0a0" stroke-width="1.2" stroke-linejoin="round"/>
</g>
<path d="M44.45,204.30V244.30" stroke="#111" stroke-width="1.5"/>
<path d="M43.70,205.05H95.60" stroke="#111" stroke-width="1.4"/>
<path d="M95.05,205.05V243.40" stroke="#111" stroke-width="1.1"/>
<path d="M44.45,243.40H95.60" stroke="#111" stroke-width="2.0"/>
<line x1="41.65" y1="205.05" x2="44.45" y2="205.05" stroke="#111" stroke-width="1.1"/>
<line x1="41.65" y1="212.52" x2="44.45" y2="212.52" stroke="#111" stroke-width="1.1"/>
<line x1="41.65" y1="219.99" x2="44.45" y2="219.99" stroke="#111" stroke-width="1.1"/>
<line x1="41.65" y1="227.46" x2="44.45" y2="227.46" stroke="#111" stroke-width="1.1"/>
<line x1="41.65" y1="234.93" x2="44.45" y2="234.93" stroke="#111" stroke-width="1.1"/>
<line x1="41.65" y1="242.40" x2="44.45" y2="242.40" stroke="#111" stroke-width="1.1"/>
<line x1="44.45" y1="243.4" x2="44.45" y2="245.8" stroke="#111" stroke-width="0.9"/>
<line x1="48.26" y1="243.4" x2="48.26" y2="244.70000000000002" stroke="#111" stroke-width="0.9"/>
<line x1="50.49" y1="243.4" x2="50.49" y2="244.70000000000002" stroke="#111" stroke-width="0.9"/>
<line x1="52.07" y1="243.4" x2="52.07" y2="244.70000000000002" stroke="#111" stroke-width="0.9"/>
<line x1="53.29" y1="243.4" x2="53.29" y2="244.70000000000002" stroke="#111" stroke-width="0.9"/>
<line x1="54.29" y1="243.4" x2="54.29" y2="244.70000000000002" stroke="#111" stroke-width="0.9"/>
<line x1="55.14" y1="243.4" x2="55.14" y2="244.70000000000002" stroke="#111" stroke-width="0.9"/>
<line x1="55.87" y1="243.4" x2="55.87" y2="244.70000000000002" stroke="#111" stroke-width="0.9"/>
<line x1="56.52" y1="243.4" x2="56.52" y2="244.70000000000002" stroke="#111" stroke-width="0.9"/>
<line x1="57.10" y1="243.4" x2="57.10" y2="245.8" stroke="#111" stroke-width="0.9"/>
<line x1="60.91" y1="243.4" x2="60.91" y2="244.70000000000002" stroke="#111" stroke-width="0.9"/>
<line x1="63.14" y1="243.4" x2="63.14" y2="244.70000000000002" stroke="#111" stroke-width="0.9"/>
<line x1="64.72" y1="243.4" x2="64.72" y2="244.70000000000002" stroke="#111" stroke-width="0.9"/>
<line x1="65.94" y1="243.4" x2="65.94" y2="244.70000000000002" stroke="#111" stroke-width="0.9"/>
<line x1="66.94" y1="243.4" x2="66.94" y2="244.70000000000002" stroke="#111" stroke-width="0.9"/>
<line x1="67.79" y1="243.4" x2="67.79" y2="244.70000000000002" stroke="#111" stroke-width="0.9"/>
<line x1="68.52" y1="243.4" x2="68.52" y2="244.70000000000002" stroke="#111" stroke-width="0.9"/>
<line x1="69.17" y1="243.4" x2="69.17" y2="244.70000000000002" stroke="#111" stroke-width="0.9"/>
<line x1="69.75" y1="243.4" x2="69.75" y2="245.8" stroke="#111" stroke-width="0.9"/>
<line x1="73.56" y1="243.4" x2="73.56" y2="244.70000000000002" stroke="#111" stroke-width="0.9"/>
<line x1="75.79" y1="243.4" x2="75.79" y2="244.70000000000002" stroke="#111" stroke-width="0.9"/>
<line x1="77.37" y1="243.4" x2="77.37" y2="244.70000000000002" stroke="#111" stroke-width="0.9"/>
<line x1="78.59" y1="243.4" x2="78.59" y2="244.70000000000002" stroke="#111" stroke-width="0.9"/>
<line x1="79.59" y1="243.4" x2="79.59" y2="244.70000000000002" stroke="#111" stroke-width="0.9"/>
<line x1="80.44" y1="243.4" x2="80.44" y2="244.70000000000002" stroke="#111" stroke-width="0.9"/>
<line x1="81.17" y1="243.4" x2="81.17" y2="244.70000000000002" stroke="#111" stroke-width="0.9"/>
<line x1="81.82" y1="243.4" x2="81.82" y2="244.70000000000002" stroke="#111" stroke-width="0.9"/>
<line x1="82.40" y1="243.4" x2="82.40" y2="245.8" stroke="#111" stroke-width="0.9"/>
<line x1="86.21" y1="243.4" x2="86.21" y2="244.70000000000002" stroke="#111" stroke-width="0.9"/>
<line x1="88.44" y1="243.4" x2="88.44" y2="244.70000000000002" stroke="#111" stroke-width="0.9"/>
<line x1="90.02" y1="243.4" x2="90.02" y2="244.70000000000002" stroke="#111" stroke-width="0.9"/>
<line x1="91.24" y1="243.4" x2="91.24" y2="244.70000000000002" stroke="#111" stroke-width="0.9"/>
<line x1="92.24" y1="243.4" x2="92.24" y2="244.70000000000002" stroke="#111" stroke-width="0.9"/>
<line x1="93.09" y1="243.4" x2="93.09" y2="244.70000000000002" stroke="#111" stroke-width="0.9"/>
<line x1="93.82" y1="243.4" x2="93.82" y2="244.70000000000002" stroke="#111" stroke-width="0.9"/>
<line x1="94.47" y1="243.4" x2="94.47" y2="244.70000000000002" stroke="#111" stroke-width="0.9"/>
<line x1="95.05" y1="243.4" x2="95.05" y2="245.8" stroke="#111" stroke-width="0.9"/>
<text transform="translate(39.05,205.05) rotate(-90) scale(0.85,1)" font-size="7.4" stroke="#111" stroke-width="0.4" text-anchor="middle">100</text>
<text transform="translate(38.55,242.30) rotate(-90) scale(0.85,1)" font-size="7.4" stroke="#111" stroke-width="0.4" text-anchor="middle">0</text>
<text transform="translate(40.49,254.60) scale(0.74,1)" font-size="8.2" stroke="#111" stroke-width="0.4">10</text>
<text transform="translate(46.85,250.20) scale(0.9,1)" font-size="6.4" stroke="#111" stroke-width="0.35">0</text>
<text transform="translate(88.64,254.60) scale(0.74,1)" font-size="8.2" stroke="#111" stroke-width="0.4">10</text>
<clipPath id="c21"><rect x="127.35" y="205.85" width="51.30" height="40.65"/></clipPath>
<g clip-path="url(#c21)">
<polygon points="131.00,247.5 131.00,245.00 132.00,243.80 138.00,244.00 144.10,243.50 146.00,242.25 147.90,241.60 149.75,239.10 151.60,236.00 153.25,231.00 154.75,227.25 156.60,222.25 158.25,217.25 159.10,215.75 160.00,217.25 161.00,223.50 162.25,232.25 163.50,238.50 165.00,242.25 167.25,244.10 167.25,247.5" fill="#3a3a3a" stroke="#111" stroke-width="0.8" stroke-linejoin="round"/>
<polyline points="132.25,243.50 133.50,232.25 134.50,216.00 135.00,207.10 136.00,207.10 137.00,211.00 137.90,206.75 138.75,211.00 139.50,223.50 140.40,236.00 141.25,242.25 142.90,244.10 178.50,244.30" fill="none" stroke="#a0a0a0" stroke-width="1.2" stroke-linejoin="round"/>
</g>
<path d="M127.35,205.10V247.40" stroke="#111" stroke-width="1.5"/>
<path d="M126.60,205.85H179.20" stroke="#111" stroke-width="1.4"/>
<path d="M178.65,205.85V246.50" stroke="#111" stroke-width="1.1"/>
<path d="M127.35,246.50H179.20" stroke="#111" stroke-width="2.0"/>
<line x1="124.55" y1="205.85" x2="127.35" y2="205.85" stroke="#111" stroke-width="1.1"/>
<line x1="124.55" y1="213.78" x2="127.35" y2="213.78" stroke="#111" stroke-width="1.1"/>
<line x1="124.55" y1="221.71" x2="127.35" y2="221.71" stroke="#111" stroke-width="1.1"/>
<line x1="124.55" y1="229.64" x2="127.35" y2="229.64" stroke="#111" stroke-width="1.1"/>
<line x1="124.55" y1="237.57" x2="127.35" y2="237.57" stroke="#111" stroke-width="1.1"/>
<line x1="124.55" y1="245.50" x2="127.35" y2="245.50" stroke="#111" stroke-width="1.1"/>
<line x1="127.35" y1="246.5" x2="127.35" y2="248.9" stroke="#111" stroke-width="0.9"/>
<line x1="131.21" y1="246.5" x2="131.21" y2="247.8" stroke="#111" stroke-width="0.9"/>
<line x1="133.47" y1="246.5" x2="133.47" y2="247.8" stroke="#111" stroke-width="0.9"/>
<line x1="135.07" y1="246.5" x2="135.07" y2="247.8" stroke="#111" stroke-width="0.9"/>
<line x1="136.31" y1="246.5" x2="136.31" y2="247.8" stroke="#111" stroke-width="0.9"/>
<line x1="137.33" y1="246.5" x2="137.33" y2="247.8" stroke="#111" stroke-width="0.9"/>
<line x1="138.19" y1="246.5" x2="138.19" y2="247.8" stroke="#111" stroke-width="0.9"/>
<line x1="138.93" y1="246.5" x2="138.93" y2="247.8" stroke="#111" stroke-width="0.9"/>
<line x1="139.59" y1="246.5" x2="139.59" y2="247.8" stroke="#111" stroke-width="0.9"/>
<line x1="140.18" y1="246.5" x2="140.18" y2="248.9" stroke="#111" stroke-width="0.9"/>
<line x1="144.04" y1="246.5" x2="144.04" y2="247.8" stroke="#111" stroke-width="0.9"/>
<line x1="146.29" y1="246.5" x2="146.29" y2="247.8" stroke="#111" stroke-width="0.9"/>
<line x1="147.90" y1="246.5" x2="147.90" y2="247.8" stroke="#111" stroke-width="0.9"/>
<line x1="149.14" y1="246.5" x2="149.14" y2="247.8" stroke="#111" stroke-width="0.9"/>
<line x1="150.15" y1="246.5" x2="150.15" y2="247.8" stroke="#111" stroke-width="0.9"/>
<line x1="151.01" y1="246.5" x2="151.01" y2="247.8" stroke="#111" stroke-width="0.9"/>
<line x1="151.76" y1="246.5" x2="151.76" y2="247.8" stroke="#111" stroke-width="0.9"/>
<line x1="152.41" y1="246.5" x2="152.41" y2="247.8" stroke="#111" stroke-width="0.9"/>
<line x1="153.00" y1="246.5" x2="153.00" y2="248.9" stroke="#111" stroke-width="0.9"/>
<line x1="156.86" y1="246.5" x2="156.86" y2="247.8" stroke="#111" stroke-width="0.9"/>
<line x1="159.12" y1="246.5" x2="159.12" y2="247.8" stroke="#111" stroke-width="0.9"/>
<line x1="160.72" y1="246.5" x2="160.72" y2="247.8" stroke="#111" stroke-width="0.9"/>
<line x1="161.96" y1="246.5" x2="161.96" y2="247.8" stroke="#111" stroke-width="0.9"/>
<line x1="162.98" y1="246.5" x2="162.98" y2="247.8" stroke="#111" stroke-width="0.9"/>
<line x1="163.84" y1="246.5" x2="163.84" y2="247.8" stroke="#111" stroke-width="0.9"/>
<line x1="164.58" y1="246.5" x2="164.58" y2="247.8" stroke="#111" stroke-width="0.9"/>
<line x1="165.24" y1="246.5" x2="165.24" y2="247.8" stroke="#111" stroke-width="0.9"/>
<line x1="165.82" y1="246.5" x2="165.82" y2="248.9" stroke="#111" stroke-width="0.9"/>
<line x1="169.69" y1="246.5" x2="169.69" y2="247.8" stroke="#111" stroke-width="0.9"/>
<line x1="171.94" y1="246.5" x2="171.94" y2="247.8" stroke="#111" stroke-width="0.9"/>
<line x1="173.55" y1="246.5" x2="173.55" y2="247.8" stroke="#111" stroke-width="0.9"/>
<line x1="174.79" y1="246.5" x2="174.79" y2="247.8" stroke="#111" stroke-width="0.9"/>
<line x1="175.80" y1="246.5" x2="175.80" y2="247.8" stroke="#111" stroke-width="0.9"/>
<line x1="176.66" y1="246.5" x2="176.66" y2="247.8" stroke="#111" stroke-width="0.9"/>
<line x1="177.41" y1="246.5" x2="177.41" y2="247.8" stroke="#111" stroke-width="0.9"/>
<line x1="178.06" y1="246.5" x2="178.06" y2="247.8" stroke="#111" stroke-width="0.9"/>
<line x1="178.65" y1="246.5" x2="178.65" y2="248.9" stroke="#111" stroke-width="0.9"/>
<text transform="translate(121.95,205.85) rotate(-90) scale(0.85,1)" font-size="7.4" stroke="#111" stroke-width="0.4" text-anchor="middle">100</text>
<text transform="translate(121.45,245.40) rotate(-90) scale(0.85,1)" font-size="7.4" stroke="#111" stroke-width="0.4" text-anchor="middle">0</text>
<text transform="translate(123.39,257.70) scale(0.74,1)" font-size="8.2" stroke="#111" stroke-width="0.4">10</text>
<text transform="translate(129.75,253.30) scale(0.9,1)" font-size="6.4" stroke="#111" stroke-width="0.35">0</text>
<text transform="translate(172.24,257.70) scale(0.74,1)" font-size="8.2" stroke="#111" stroke-width="0.4">10</text>
<text transform="translate(180.15,253.30) scale(0.9,1)" font-size="6.4" stroke="#111" stroke-width="0.35">4</text>
<clipPath id="c22"><rect x="209.35" y="205.45" width="52.40" height="40.55"/></clipPath>
<g clip-path="url(#c22)">
<polygon points="212.00,247.0 212.00,244.50 214.00,243.60 220.00,244.00 226.00,243.70 231.75,243.75 234.25,242.50 235.75,240.00 237.40,236.25 239.00,230.00 240.50,225.00 242.00,221.50 243.60,220.00 245.25,220.60 246.10,222.50 247.40,227.50 248.60,232.50 249.90,236.90 251.75,240.60 254.25,242.75 256.75,243.90 256.75,247.0" fill="#3a3a3a" stroke="#111" stroke-width="0.8" stroke-linejoin="round"/>
<polyline points="210.75,243.75 210.75,221.00 212.40,236.25 213.60,228.75 214.90,221.25 216.10,216.25 217.40,213.75 218.25,214.40 219.25,216.25 220.50,222.50 221.75,230.00 223.00,236.25 224.50,241.25 226.75,243.75 261.00,243.90" fill="none" stroke="#a0a0a0" stroke-width="1.2" stroke-linejoin="round"/>
</g>
<path d="M209.35,204.70V246.90" stroke="#111" stroke-width="1.5"/>
<path d="M208.60,205.45H262.30" stroke="#111" stroke-width="1.4"/>
<path d="M261.75,205.45V246.00" stroke="#111" stroke-width="1.1"/>
<path d="M209.35,246.00H262.30" stroke="#111" stroke-width="2.0"/>
<line x1="206.55" y1="205.45" x2="209.35" y2="205.45" stroke="#111" stroke-width="1.1"/>
<line x1="206.55" y1="213.36" x2="209.35" y2="213.36" stroke="#111" stroke-width="1.1"/>
<line x1="206.55" y1="221.27" x2="209.35" y2="221.27" stroke="#111" stroke-width="1.1"/>
<line x1="206.55" y1="229.18" x2="209.35" y2="229.18" stroke="#111" stroke-width="1.1"/>
<line x1="206.55" y1="237.09" x2="209.35" y2="237.09" stroke="#111" stroke-width="1.1"/>
<line x1="206.55" y1="245.00" x2="209.35" y2="245.00" stroke="#111" stroke-width="1.1"/>
<line x1="209.35" y1="246.0" x2="209.35" y2="248.4" stroke="#111" stroke-width="0.9"/>
<line x1="213.29" y1="246.0" x2="213.29" y2="247.3" stroke="#111" stroke-width="0.9"/>
<line x1="215.60" y1="246.0" x2="215.60" y2="247.3" stroke="#111" stroke-width="0.9"/>
<line x1="217.24" y1="246.0" x2="217.24" y2="247.3" stroke="#111" stroke-width="0.9"/>
<line x1="218.51" y1="246.0" x2="218.51" y2="247.3" stroke="#111" stroke-width="0.9"/>
<line x1="219.54" y1="246.0" x2="219.54" y2="247.3" stroke="#111" stroke-width="0.9"/>
<line x1="220.42" y1="246.0" x2="220.42" y2="247.3" stroke="#111" stroke-width="0.9"/>
<line x1="221.18" y1="246.0" x2="221.18" y2="247.3" stroke="#111" stroke-width="0.9"/>
<line x1="221.85" y1="246.0" x2="221.85" y2="247.3" stroke="#111" stroke-width="0.9"/>
<line x1="222.45" y1="246.0" x2="222.45" y2="248.4" stroke="#111" stroke-width="0.9"/>
<line x1="226.39" y1="246.0" x2="226.39" y2="247.3" stroke="#111" stroke-width="0.9"/>
<line x1="228.70" y1="246.0" x2="228.70" y2="247.3" stroke="#111" stroke-width="0.9"/>
<line x1="230.34" y1="246.0" x2="230.34" y2="247.3" stroke="#111" stroke-width="0.9"/>
<line x1="231.61" y1="246.0" x2="231.61" y2="247.3" stroke="#111" stroke-width="0.9"/>
<line x1="232.64" y1="246.0" x2="232.64" y2="247.3" stroke="#111" stroke-width="0.9"/>
<line x1="233.52" y1="246.0" x2="233.52" y2="247.3" stroke="#111" stroke-width="0.9"/>
<line x1="234.28" y1="246.0" x2="234.28" y2="247.3" stroke="#111" stroke-width="0.9"/>
<line x1="234.95" y1="246.0" x2="234.95" y2="247.3" stroke="#111" stroke-width="0.9"/>
<line x1="235.55" y1="246.0" x2="235.55" y2="248.4" stroke="#111" stroke-width="0.9"/>
<line x1="239.49" y1="246.0" x2="239.49" y2="247.3" stroke="#111" stroke-width="0.9"/>
<line x1="241.80" y1="246.0" x2="241.80" y2="247.3" stroke="#111" stroke-width="0.9"/>
<line x1="243.44" y1="246.0" x2="243.44" y2="247.3" stroke="#111" stroke-width="0.9"/>
<line x1="244.71" y1="246.0" x2="244.71" y2="247.3" stroke="#111" stroke-width="0.9"/>
<line x1="245.74" y1="246.0" x2="245.74" y2="247.3" stroke="#111" stroke-width="0.9"/>
<line x1="246.62" y1="246.0" x2="246.62" y2="247.3" stroke="#111" stroke-width="0.9"/>
<line x1="247.38" y1="246.0" x2="247.38" y2="247.3" stroke="#111" stroke-width="0.9"/>
<line x1="248.05" y1="246.0" x2="248.05" y2="247.3" stroke="#111" stroke-width="0.9"/>
<line x1="248.65" y1="246.0" x2="248.65" y2="248.4" stroke="#111" stroke-width="0.9"/>
<line x1="252.59" y1="246.0" x2="252.59" y2="247.3" stroke="#111" stroke-width="0.9"/>
<line x1="254.90" y1="246.0" x2="254.90" y2="247.3" stroke="#111" stroke-width="0.9"/>
<line x1="256.54" y1="246.0" x2="256.54" y2="247.3" stroke="#111" stroke-width="0.9"/>
<line x1="257.81" y1="246.0" x2="257.81" y2="247.3" stroke="#111" stroke-width="0.9"/>
<line x1="258.84" y1="246.0" x2="258.84" y2="247.3" stroke="#111" stroke-width="0.9"/>
<line x1="259.72" y1="246.0" x2="259.72" y2="247.3" stroke="#111" stroke-width="0.9"/>
<line x1="260.48" y1="246.0" x2="260.48" y2="247.3" stroke="#111" stroke-width="0.9"/>
<line x1="261.15" y1="246.0" x2="261.15" y2="247.3" stroke="#111" stroke-width="0.9"/>
<line x1="261.75" y1="246.0" x2="261.75" y2="248.4" stroke="#111" stroke-width="0.9"/>
<text transform="translate(203.95,205.45) rotate(-90) scale(0.85,1)" font-size="7.4" stroke="#111" stroke-width="0.4" text-anchor="middle">100</text>
<text transform="translate(203.45,244.90) rotate(-90) scale(0.85,1)" font-size="7.4" stroke="#111" stroke-width="0.4" text-anchor="middle">0</text>
<text transform="translate(205.39,257.20) scale(0.74,1)" font-size="8.2" stroke="#111" stroke-width="0.4">10</text>
<text transform="translate(211.75,252.80) scale(0.9,1)" font-size="6.4" stroke="#111" stroke-width="0.35">0</text>
<text transform="translate(255.34,257.20) scale(0.74,1)" font-size="8.2" stroke="#111" stroke-width="0.4">10</text>
<text transform="translate(263.25,252.80) scale(0.9,1)" font-size="6.4" stroke="#111" stroke-width="0.35">4</text>
<clipPath id="c30"><rect x="44.15" y="276.85" width="50.40" height="39.25"/></clipPath>
<g clip-path="url(#c30)">
<polygon points="48.60,317.1 48.60,314.10 50.50,312.25 52.40,309.75 54.00,306.00 55.50,301.00 56.50,293.50 57.40,286.00 58.10,280.40 58.90,277.90 60.00,277.30 63.20,277.30 64.10,279.00 64.80,283.50 65.60,291.00 66.50,299.75 67.75,307.25 69.25,312.25 71.10,314.10 71.10,317.1" fill="#3a3a3a" stroke="#111" stroke-width="0.8" stroke-linejoin="round"/>
<polyline points="46.10,314.10 48.00,311.00 49.00,303.00 50.00,292.00 50.80,281.00 51.50,277.75 53.00,277.75 54.50,277.75 55.50,281.00 56.30,290.00 57.00,298.00 58.00,306.00 59.90,311.00 63.00,313.25 68.00,313.75 94.50,313.90" fill="none" stroke="#a0a0a0" stroke-width="1.2" stroke-linejoin="round"/>
</g>
<path d="M44.15,276.10V317.00" stroke="#111" stroke-width="1.5"/>
<path d="M43.40,276.85H95.10" stroke="#111" stroke-width="1.4"/>
<path d="M94.55,276.85V316.10" stroke="#111" stroke-width="1.1"/>
<path d="M44.15,316.10H95.10" stroke="#111" stroke-width="2.0"/>
<line x1="41.35" y1="276.85" x2="44.15" y2="276.85" stroke="#111" stroke-width="1.1"/>
<line x1="41.35" y1="284.50" x2="44.15" y2="284.50" stroke="#111" stroke-width="1.1"/>
<line x1="41.35" y1="292.15" x2="44.15" y2="292.15" stroke="#111" stroke-width="1.1"/>
<line x1="41.35" y1="299.80" x2="44.15" y2="299.80" stroke="#111" stroke-width="1.1"/>
<line x1="41.35" y1="307.45" x2="44.15" y2="307.45" stroke="#111" stroke-width="1.1"/>
<line x1="41.35" y1="315.10" x2="44.15" y2="315.10" stroke="#111" stroke-width="1.1"/>
<line x1="44.15" y1="316.1" x2="44.15" y2="318.5" stroke="#111" stroke-width="0.9"/>
<line x1="47.94" y1="316.1" x2="47.94" y2="317.40000000000003" stroke="#111" stroke-width="0.9"/>
<line x1="50.16" y1="316.1" x2="50.16" y2="317.40000000000003" stroke="#111" stroke-width="0.9"/>
<line x1="51.74" y1="316.1" x2="51.74" y2="317.40000000000003" stroke="#111" stroke-width="0.9"/>
<line x1="52.96" y1="316.1" x2="52.96" y2="317.40000000000003" stroke="#111" stroke-width="0.9"/>
<line x1="53.95" y1="316.1" x2="53.95" y2="317.40000000000003" stroke="#111" stroke-width="0.9"/>
<line x1="54.80" y1="316.1" x2="54.80" y2="317.40000000000003" stroke="#111" stroke-width="0.9"/>
<line x1="55.53" y1="316.1" x2="55.53" y2="317.40000000000003" stroke="#111" stroke-width="0.9"/>
<line x1="56.17" y1="316.1" x2="56.17" y2="317.40000000000003" stroke="#111" stroke-width="0.9"/>
<line x1="56.75" y1="316.1" x2="56.75" y2="318.5" stroke="#111" stroke-width="0.9"/>
<line x1="60.54" y1="316.1" x2="60.54" y2="317.40000000000003" stroke="#111" stroke-width="0.9"/>
<line x1="62.76" y1="316.1" x2="62.76" y2="317.40000000000003" stroke="#111" stroke-width="0.9"/>
<line x1="64.34" y1="316.1" x2="64.34" y2="317.40000000000003" stroke="#111" stroke-width="0.9"/>
<line x1="65.56" y1="316.1" x2="65.56" y2="317.40000000000003" stroke="#111" stroke-width="0.9"/>
<line x1="66.55" y1="316.1" x2="66.55" y2="317.40000000000003" stroke="#111" stroke-width="0.9"/>
<line x1="67.40" y1="316.1" x2="67.40" y2="317.40000000000003" stroke="#111" stroke-width="0.9"/>
<line x1="68.13" y1="316.1" x2="68.13" y2="317.40000000000003" stroke="#111" stroke-width="0.9"/>
<line x1="68.77" y1="316.1" x2="68.77" y2="317.40000000000003" stroke="#111" stroke-width="0.9"/>
<line x1="69.35" y1="316.1" x2="69.35" y2="318.5" stroke="#111" stroke-width="0.9"/>
<line x1="73.14" y1="316.1" x2="73.14" y2="317.40000000000003" stroke="#111" stroke-width="0.9"/>
<line x1="75.36" y1="316.1" x2="75.36" y2="317.40000000000003" stroke="#111" stroke-width="0.9"/>
<line x1="76.94" y1="316.1" x2="76.94" y2="317.40000000000003" stroke="#111" stroke-width="0.9"/>
<line x1="78.16" y1="316.1" x2="78.16" y2="317.40000000000003" stroke="#111" stroke-width="0.9"/>
<line x1="79.15" y1="316.1" x2="79.15" y2="317.40000000000003" stroke="#111" stroke-width="0.9"/>
<line x1="80.00" y1="316.1" x2="80.00" y2="317.40000000000003" stroke="#111" stroke-width="0.9"/>
<line x1="80.73" y1="316.1" x2="80.73" y2="317.40000000000003" stroke="#111" stroke-width="0.9"/>
<line x1="81.37" y1="316.1" x2="81.37" y2="317.40000000000003" stroke="#111" stroke-width="0.9"/>
<line x1="81.95" y1="316.1" x2="81.95" y2="318.5" stroke="#111" stroke-width="0.9"/>
<line x1="85.74" y1="316.1" x2="85.74" y2="317.40000000000003" stroke="#111" stroke-width="0.9"/>
<line x1="87.96" y1="316.1" x2="87.96" y2="317.40000000000003" stroke="#111" stroke-width="0.9"/>
<line x1="89.54" y1="316.1" x2="89.54" y2="317.40000000000003" stroke="#111" stroke-width="0.9"/>
<line x1="90.76" y1="316.1" x2="90.76" y2="317.40000000000003" stroke="#111" stroke-width="0.9"/>
<line x1="91.75" y1="316.1" x2="91.75" y2="317.40000000000003" stroke="#111" stroke-width="0.9"/>
<line x1="92.60" y1="316.1" x2="92.60" y2="317.40000000000003" stroke="#111" stroke-width="0.9"/>
<line x1="93.33" y1="316.1" x2="93.33" y2="317.40000000000003" stroke="#111" stroke-width="0.9"/>
<line x1="93.97" y1="316.1" x2="93.97" y2="317.40000000000003" stroke="#111" stroke-width="0.9"/>
<line x1="94.55" y1="316.1" x2="94.55" y2="318.5" stroke="#111" stroke-width="0.9"/>
<text transform="translate(38.75,276.85) rotate(-90) scale(0.85,1)" font-size="7.4" stroke="#111" stroke-width="0.4" text-anchor="middle">100</text>
<text transform="translate(38.25,315.00) rotate(-90) scale(0.85,1)" font-size="7.4" stroke="#111" stroke-width="0.4" text-anchor="middle">0</text>
<text transform="translate(40.19,327.30) scale(0.74,1)" font-size="8.2" stroke="#111" stroke-width="0.4">10</text>
<text transform="translate(46.55,322.90) scale(0.9,1)" font-size="6.4" stroke="#111" stroke-width="0.35">0</text>
<text transform="translate(88.14,327.30) scale(0.74,1)" font-size="8.2" stroke="#111" stroke-width="0.4">10</text>
<clipPath id="c31"><rect x="126.95" y="276.85" width="51.40" height="40.75"/></clipPath>
<g clip-path="url(#c31)">
<polygon points="131.60,318.6 131.60,315.40 132.90,311.00 133.75,303.50 134.75,294.75 135.75,287.25 136.60,284.75 137.50,283.50 138.50,282.25 139.50,286.00 140.40,294.75 141.25,303.50 142.50,309.75 144.10,312.90 146.00,314.50 148.00,315.20 148.00,318.6" fill="#3a3a3a" stroke="#111" stroke-width="0.8" stroke-linejoin="round"/>
<polyline points="131.00,314.10 132.25,308.50 133.25,296.00 134.10,283.50 134.75,277.75 135.75,281.00 136.60,277.75 137.50,282.25 138.50,283.50 139.50,293.50 140.75,303.50 142.25,311.00 144.75,314.10 178.50,314.90" fill="none" stroke="#a0a0a0" stroke-width="1.2" stroke-linejoin="round"/>
</g>
<path d="M126.95,276.10V318.50" stroke="#111" stroke-width="1.5"/>
<path d="M126.20,276.85H178.90" stroke="#111" stroke-width="1.4"/>
<path d="M178.35,276.85V317.60" stroke="#111" stroke-width="1.1"/>
<path d="M126.95,317.60H178.90" stroke="#111" stroke-width="2.0"/>
<line x1="124.15" y1="276.85" x2="126.95" y2="276.85" stroke="#111" stroke-width="1.1"/>
<line x1="124.15" y1="284.80" x2="126.95" y2="284.80" stroke="#111" stroke-width="1.1"/>
<line x1="124.15" y1="292.75" x2="126.95" y2="292.75" stroke="#111" stroke-width="1.1"/>
<line x1="124.15" y1="300.70" x2="126.95" y2="300.70" stroke="#111" stroke-width="1.1"/>
<line x1="124.15" y1="308.65" x2="126.95" y2="308.65" stroke="#111" stroke-width="1.1"/>
<line x1="124.15" y1="316.60" x2="126.95" y2="316.60" stroke="#111" stroke-width="1.1"/>
<line x1="126.95" y1="317.6" x2="126.95" y2="320.0" stroke="#111" stroke-width="0.9"/>
<line x1="130.82" y1="317.6" x2="130.82" y2="318.90000000000003" stroke="#111" stroke-width="0.9"/>
<line x1="133.08" y1="317.6" x2="133.08" y2="318.90000000000003" stroke="#111" stroke-width="0.9"/>
<line x1="134.69" y1="317.6" x2="134.69" y2="318.90000000000003" stroke="#111" stroke-width="0.9"/>
<line x1="135.93" y1="317.6" x2="135.93" y2="318.90000000000003" stroke="#111" stroke-width="0.9"/>
<line x1="136.95" y1="317.6" x2="136.95" y2="318.90000000000003" stroke="#111" stroke-width="0.9"/>
<line x1="137.81" y1="317.6" x2="137.81" y2="318.90000000000003" stroke="#111" stroke-width="0.9"/>
<line x1="138.55" y1="317.6" x2="138.55" y2="318.90000000000003" stroke="#111" stroke-width="0.9"/>
<line x1="139.21" y1="317.6" x2="139.21" y2="318.90000000000003" stroke="#111" stroke-width="0.9"/>
<line x1="139.80" y1="317.6" x2="139.80" y2="320.0" stroke="#111" stroke-width="0.9"/>
<line x1="143.67" y1="317.6" x2="143.67" y2="318.90000000000003" stroke="#111" stroke-width="0.9"/>
<line x1="145.93" y1="317.6" x2="145.93" y2="318.90000000000003" stroke="#111" stroke-width="0.9"/>
<line x1="147.54" y1="317.6" x2="147.54" y2="318.90000000000003" stroke="#111" stroke-width="0.9"/>
<line x1="148.78" y1="317.6" x2="148.78" y2="318.90000000000003" stroke="#111" stroke-width="0.9"/>
<line x1="149.80" y1="317.6" x2="149.80" y2="318.90000000000003" stroke="#111" stroke-width="0.9"/>
<line x1="150.66" y1="317.6" x2="150.66" y2="318.90000000000003" stroke="#111" stroke-width="0.9"/>
<line x1="151.40" y1="317.6" x2="151.40" y2="318.90000000000003" stroke="#111" stroke-width="0.9"/>
<line x1="152.06" y1="317.6" x2="152.06" y2="318.90000000000003" stroke="#111" stroke-width="0.9"/>
<line x1="152.65" y1="317.6" x2="152.65" y2="320.0" stroke="#111" stroke-width="0.9"/>
<line x1="156.52" y1="317.6" x2="156.52" y2="318.90000000000003" stroke="#111" stroke-width="0.9"/>
<line x1="158.78" y1="317.6" x2="158.78" y2="318.90000000000003" stroke="#111" stroke-width="0.9"/>
<line x1="160.39" y1="317.6" x2="160.39" y2="318.90000000000003" stroke="#111" stroke-width="0.9"/>
<line x1="161.63" y1="317.6" x2="161.63" y2="318.90000000000003" stroke="#111" stroke-width="0.9"/>
<line x1="162.65" y1="317.6" x2="162.65" y2="318.90000000000003" stroke="#111" stroke-width="0.9"/>
<line x1="163.51" y1="317.6" x2="163.51" y2="318.90000000000003" stroke="#111" stroke-width="0.9"/>
<line x1="164.25" y1="317.6" x2="164.25" y2="318.90000000000003" stroke="#111" stroke-width="0.9"/>
<line x1="164.91" y1="317.6" x2="164.91" y2="318.90000000000003" stroke="#111" stroke-width="0.9"/>
<line x1="165.50" y1="317.6" x2="165.50" y2="320.0" stroke="#111" stroke-width="0.9"/>
<line x1="169.37" y1="317.6" x2="169.37" y2="318.90000000000003" stroke="#111" stroke-width="0.9"/>
<line x1="171.63" y1="317.6" x2="171.63" y2="318.90000000000003" stroke="#111" stroke-width="0.9"/>
<line x1="173.24" y1="317.6" x2="173.24" y2="318.90000000000003" stroke="#111" stroke-width="0.9"/>
<line x1="174.48" y1="317.6" x2="174.48" y2="318.90000000000003" stroke="#111" stroke-width="0.9"/>
<line x1="175.50" y1="317.6" x2="175.50" y2="318.90000000000003" stroke="#111" stroke-width="0.9"/>
<line x1="176.36" y1="317.6" x2="176.36" y2="318.90000000000003" stroke="#111" stroke-width="0.9"/>
<line x1="177.10" y1="317.6" x2="177.10" y2="318.90000000000003" stroke="#111" stroke-width="0.9"/>
<line x1="177.76" y1="317.6" x2="177.76" y2="318.90000000000003" stroke="#111" stroke-width="0.9"/>
<line x1="178.35" y1="317.6" x2="178.35" y2="320.0" stroke="#111" stroke-width="0.9"/>
<text transform="translate(121.55,276.85) rotate(-90) scale(0.85,1)" font-size="7.4" stroke="#111" stroke-width="0.4" text-anchor="middle">100</text>
<text transform="translate(121.05,316.50) rotate(-90) scale(0.85,1)" font-size="7.4" stroke="#111" stroke-width="0.4" text-anchor="middle">0</text>
<text transform="translate(122.99,328.80) scale(0.74,1)" font-size="8.2" stroke="#111" stroke-width="0.4">10</text>
<text transform="translate(129.35,324.40) scale(0.9,1)" font-size="6.4" stroke="#111" stroke-width="0.35">0</text>
<text transform="translate(171.94,328.80) scale(0.74,1)" font-size="8.2" stroke="#111" stroke-width="0.4">10</text>
<text transform="translate(179.85,324.40) scale(0.9,1)" font-size="6.4" stroke="#111" stroke-width="0.35">4</text>
<clipPath id="c32"><rect x="208.15" y="277.05" width="53.65" height="41.45"/></clipPath>
<g clip-path="url(#c32)">
<polygon points="214.50,319.5 214.50,316.60 216.40,314.75 218.00,312.25 219.50,308.50 220.75,303.50 221.75,296.00 222.60,288.50 223.50,282.25 224.25,281.60 225.10,287.25 226.40,293.50 227.60,301.00 229.25,307.25 231.00,311.60 233.25,314.10 236.40,315.75 238.90,316.25 238.90,319.5" fill="#3a3a3a" stroke="#111" stroke-width="0.8" stroke-linejoin="round"/>
<polyline points="209.75,316.00 209.75,293.50 211.00,303.50 212.25,296.00 213.50,289.75 214.75,285.40 216.00,284.75 217.00,286.00 218.00,284.10 218.90,286.00 219.75,292.25 220.75,301.00 222.00,308.50 223.50,313.50 226.40,315.40 260.50,315.80" fill="none" stroke="#a0a0a0" stroke-width="1.2" stroke-linejoin="round"/>
</g>
<path d="M208.15,276.30V319.40" stroke="#111" stroke-width="1.5"/>
<path d="M207.40,277.05H262.35" stroke="#111" stroke-width="1.4"/>
<path d="M261.80,277.05V318.50" stroke="#111" stroke-width="1.1"/>
<path d="M208.15,318.50H262.35" stroke="#111" stroke-width="2.0"/>
<line x1="205.35" y1="277.05" x2="208.15" y2="277.05" stroke="#111" stroke-width="1.1"/>
<line x1="205.35" y1="285.14" x2="208.15" y2="285.14" stroke="#111" stroke-width="1.1"/>
<line x1="205.35" y1="293.23" x2="208.15" y2="293.23" stroke="#111" stroke-width="1.1"/>
<line x1="205.35" y1="301.32" x2="208.15" y2="301.32" stroke="#111" stroke-width="1.1"/>
<line x1="205.35" y1="309.41" x2="208.15" y2="309.41" stroke="#111" stroke-width="1.1"/>
<line x1="205.35" y1="317.50" x2="208.15" y2="317.50" stroke="#111" stroke-width="1.1"/>
<line x1="208.15" y1="318.5" x2="208.15" y2="320.9" stroke="#111" stroke-width="0.9"/>
<line x1="212.19" y1="318.5" x2="212.19" y2="319.8" stroke="#111" stroke-width="0.9"/>
<line x1="214.55" y1="318.5" x2="214.55" y2="319.8" stroke="#111" stroke-width="0.9"/>
<line x1="216.23" y1="318.5" x2="216.23" y2="319.8" stroke="#111" stroke-width="0.9"/>
<line x1="217.52" y1="318.5" x2="217.52" y2="319.8" stroke="#111" stroke-width="0.9"/>
<line x1="218.59" y1="318.5" x2="218.59" y2="319.8" stroke="#111" stroke-width="0.9"/>
<line x1="219.48" y1="318.5" x2="219.48" y2="319.8" stroke="#111" stroke-width="0.9"/>
<line x1="220.26" y1="318.5" x2="220.26" y2="319.8" stroke="#111" stroke-width="0.9"/>
<line x1="220.95" y1="318.5" x2="220.95" y2="319.8" stroke="#111" stroke-width="0.9"/>
<line x1="221.56" y1="318.5" x2="221.56" y2="320.9" stroke="#111" stroke-width="0.9"/>
<line x1="225.60" y1="318.5" x2="225.60" y2="319.8" stroke="#111" stroke-width="0.9"/>
<line x1="227.96" y1="318.5" x2="227.96" y2="319.8" stroke="#111" stroke-width="0.9"/>
<line x1="229.64" y1="318.5" x2="229.64" y2="319.8" stroke="#111" stroke-width="0.9"/>
<line x1="230.94" y1="318.5" x2="230.94" y2="319.8" stroke="#111" stroke-width="0.9"/>
<line x1="232.00" y1="318.5" x2="232.00" y2="319.8" stroke="#111" stroke-width="0.9"/>
<line x1="232.90" y1="318.5" x2="232.90" y2="319.8" stroke="#111" stroke-width="0.9"/>
<line x1="233.68" y1="318.5" x2="233.68" y2="319.8" stroke="#111" stroke-width="0.9"/>
<line x1="234.36" y1="318.5" x2="234.36" y2="319.8" stroke="#111" stroke-width="0.9"/>
<line x1="234.98" y1="318.5" x2="234.98" y2="320.9" stroke="#111" stroke-width="0.9"/>
<line x1="239.01" y1="318.5" x2="239.01" y2="319.8" stroke="#111" stroke-width="0.9"/>
<line x1="241.37" y1="318.5" x2="241.37" y2="319.8" stroke="#111" stroke-width="0.9"/>
<line x1="243.05" y1="318.5" x2="243.05" y2="319.8" stroke="#111" stroke-width="0.9"/>
<line x1="244.35" y1="318.5" x2="244.35" y2="319.8" stroke="#111" stroke-width="0.9"/>
<line x1="245.41" y1="318.5" x2="245.41" y2="319.8" stroke="#111" stroke-width="0.9"/>
<line x1="246.31" y1="318.5" x2="246.31" y2="319.8" stroke="#111" stroke-width="0.9"/>
<line x1="247.09" y1="318.5" x2="247.09" y2="319.8" stroke="#111" stroke-width="0.9"/>
<line x1="247.77" y1="318.5" x2="247.77" y2="319.8" stroke="#111" stroke-width="0.9"/>
<line x1="248.39" y1="318.5" x2="248.39" y2="320.9" stroke="#111" stroke-width="0.9"/>
<line x1="252.43" y1="318.5" x2="252.43" y2="319.8" stroke="#111" stroke-width="0.9"/>
<line x1="254.79" y1="318.5" x2="254.79" y2="319.8" stroke="#111" stroke-width="0.9"/>
<line x1="256.46" y1="318.5" x2="256.46" y2="319.8" stroke="#111" stroke-width="0.9"/>
<line x1="257.76" y1="318.5" x2="257.76" y2="319.8" stroke="#111" stroke-width="0.9"/>
<line x1="258.82" y1="318.5" x2="258.82" y2="319.8" stroke="#111" stroke-width="0.9"/>
<line x1="259.72" y1="318.5" x2="259.72" y2="319.8" stroke="#111" stroke-width="0.9"/>
<line x1="260.50" y1="318.5" x2="260.50" y2="319.8" stroke="#111" stroke-width="0.9"/>
<line x1="261.19" y1="318.5" x2="261.19" y2="319.8" stroke="#111" stroke-width="0.9"/>
<line x1="261.80" y1="318.5" x2="261.80" y2="320.9" stroke="#111" stroke-width="0.9"/>
<text transform="translate(202.75,277.05) rotate(-90) scale(0.85,1)" font-size="7.4" stroke="#111" stroke-width="0.4" text-anchor="middle">100</text>
<text transform="translate(202.25,317.40) rotate(-90) scale(0.85,1)" font-size="7.4" stroke="#111" stroke-width="0.4" text-anchor="middle">0</text>
<text transform="translate(204.19,329.70) scale(0.74,1)" font-size="8.2" stroke="#111" stroke-width="0.4">10</text>
<text transform="translate(210.55,325.30) scale(0.9,1)" font-size="6.4" stroke="#111" stroke-width="0.35">0</text>
<text transform="translate(255.39,329.70) scale(0.74,1)" font-size="8.2" stroke="#111" stroke-width="0.4">10</text>
<text transform="translate(263.30,325.30) scale(0.9,1)" font-size="6.4" stroke="#111" stroke-width="0.35">4</text>
<clipPath id="c40"><rect x="44.15" y="348.0" width="50.10" height="39.40"/></clipPath>
<g clip-path="url(#c40)">
<polygon points="48.60,388.4 48.60,386.75 50.50,385.50 52.75,383.00 54.90,381.10 56.50,379.25 57.40,375.50 58.25,373.00 59.50,372.40 60.50,371.10 61.75,369.90 63.00,367.40 64.25,361.75 65.25,356.75 66.50,352.40 67.75,349.25 68.60,349.25 69.50,353.00 70.75,358.00 72.00,361.10 73.25,364.25 74.25,368.00 75.50,373.00 76.75,376.75 78.00,380.50 79.25,383.00 81.10,384.90 83.00,385.75 85.00,386.40 85.00,388.4" fill="#3a3a3a" stroke="#111" stroke-width="0.8" stroke-linejoin="round"/>
<polyline points="48.00,386.10 49.50,380.50 50.50,370.50 51.50,358.00 52.10,349.10 53.25,348.90 54.25,353.00 55.25,361.75 56.10,371.75 57.00,379.25 58.25,383.00 60.50,384.90 66.75,385.75 93.80,385.90" fill="none" stroke="#a0a0a0" stroke-width="1.2" stroke-linejoin="round"/>
</g>
<path d="M44.15,347.25V388.30" stroke="#111" stroke-width="1.5"/>
<path d="M43.40,348.00H94.80" stroke="#111" stroke-width="1.4"/>
<path d="M94.25,348.00V387.40" stroke="#111" stroke-width="1.1"/>
<path d="M44.15,387.40H94.80" stroke="#111" stroke-width="2.0"/>
<line x1="41.35" y1="348.00" x2="44.15" y2="348.00" stroke="#111" stroke-width="1.1"/>
<line x1="41.35" y1="355.68" x2="44.15" y2="355.68" stroke="#111" stroke-width="1.1"/>
<line x1="41.35" y1="363.36" x2="44.15" y2="363.36" stroke="#111" stroke-width="1.1"/>
<line x1="41.35" y1="371.04" x2="44.15" y2="371.04" stroke="#111" stroke-width="1.1"/>
<line x1="41.35" y1="378.72" x2="44.15" y2="378.72" stroke="#111" stroke-width="1.1"/>
<line x1="41.35" y1="386.40" x2="44.15" y2="386.40" stroke="#111" stroke-width="1.1"/>
<line x1="44.15" y1="387.4" x2="44.15" y2="389.79999999999995" stroke="#111" stroke-width="0.9"/>
<line x1="47.92" y1="387.4" x2="47.92" y2="388.7" stroke="#111" stroke-width="0.9"/>
<line x1="50.13" y1="387.4" x2="50.13" y2="388.7" stroke="#111" stroke-width="0.9"/>
<line x1="51.69" y1="387.4" x2="51.69" y2="388.7" stroke="#111" stroke-width="0.9"/>
<line x1="52.90" y1="387.4" x2="52.90" y2="388.7" stroke="#111" stroke-width="0.9"/>
<line x1="53.90" y1="387.4" x2="53.90" y2="388.7" stroke="#111" stroke-width="0.9"/>
<line x1="54.73" y1="387.4" x2="54.73" y2="388.7" stroke="#111" stroke-width="0.9"/>
<line x1="55.46" y1="387.4" x2="55.46" y2="388.7" stroke="#111" stroke-width="0.9"/>
<line x1="56.10" y1="387.4" x2="56.10" y2="388.7" stroke="#111" stroke-width="0.9"/>
<line x1="56.67" y1="387.4" x2="56.67" y2="389.79999999999995" stroke="#111" stroke-width="0.9"/>
<line x1="60.45" y1="387.4" x2="60.45" y2="388.7" stroke="#111" stroke-width="0.9"/>
<line x1="62.65" y1="387.4" x2="62.65" y2="388.7" stroke="#111" stroke-width="0.9"/>
<line x1="64.22" y1="387.4" x2="64.22" y2="388.7" stroke="#111" stroke-width="0.9"/>
<line x1="65.43" y1="387.4" x2="65.43" y2="388.7" stroke="#111" stroke-width="0.9"/>
<line x1="66.42" y1="387.4" x2="66.42" y2="388.7" stroke="#111" stroke-width="0.9"/>
<line x1="67.26" y1="387.4" x2="67.26" y2="388.7" stroke="#111" stroke-width="0.9"/>
<line x1="67.99" y1="387.4" x2="67.99" y2="388.7" stroke="#111" stroke-width="0.9"/>
<line x1="68.63" y1="387.4" x2="68.63" y2="388.7" stroke="#111" stroke-width="0.9"/>
<line x1="69.20" y1="387.4" x2="69.20" y2="389.79999999999995" stroke="#111" stroke-width="0.9"/>
<line x1="72.97" y1="387.4" x2="72.97" y2="388.7" stroke="#111" stroke-width="0.9"/>
<line x1="75.18" y1="387.4" x2="75.18" y2="388.7" stroke="#111" stroke-width="0.9"/>
<line x1="76.74" y1="387.4" x2="76.74" y2="388.7" stroke="#111" stroke-width="0.9"/>
<line x1="77.95" y1="387.4" x2="77.95" y2="388.7" stroke="#111" stroke-width="0.9"/>
<line x1="78.95" y1="387.4" x2="78.95" y2="388.7" stroke="#111" stroke-width="0.9"/>
<line x1="79.78" y1="387.4" x2="79.78" y2="388.7" stroke="#111" stroke-width="0.9"/>
<line x1="80.51" y1="387.4" x2="80.51" y2="388.7" stroke="#111" stroke-width="0.9"/>
<line x1="81.15" y1="387.4" x2="81.15" y2="388.7" stroke="#111" stroke-width="0.9"/>
<line x1="81.72" y1="387.4" x2="81.72" y2="389.79999999999995" stroke="#111" stroke-width="0.9"/>
<line x1="85.50" y1="387.4" x2="85.50" y2="388.7" stroke="#111" stroke-width="0.9"/>
<line x1="87.70" y1="387.4" x2="87.70" y2="388.7" stroke="#111" stroke-width="0.9"/>
<line x1="89.27" y1="387.4" x2="89.27" y2="388.7" stroke="#111" stroke-width="0.9"/>
<line x1="90.48" y1="387.4" x2="90.48" y2="388.7" stroke="#111" stroke-width="0.9"/>
<line x1="91.47" y1="387.4" x2="91.47" y2="388.7" stroke="#111" stroke-width="0.9"/>
<line x1="92.31" y1="387.4" x2="92.31" y2="388.7" stroke="#111" stroke-width="0.9"/>
<line x1="93.04" y1="387.4" x2="93.04" y2="388.7" stroke="#111" stroke-width="0.9"/>
<line x1="93.68" y1="387.4" x2="93.68" y2="388.7" stroke="#111" stroke-width="0.9"/>
<line x1="94.25" y1="387.4" x2="94.25" y2="389.79999999999995" stroke="#111" stroke-width="0.9"/>
<text transform="translate(38.75,348.00) rotate(-90) scale(0.85,1)" font-size="7.4" stroke="#111" stroke-width="0.4" text-anchor="middle">100</text>
<text transform="translate(38.25,386.30) rotate(-90) scale(0.85,1)" font-size="7.4" stroke="#111" stroke-width="0.4" text-anchor="middle">0</text>
<text transform="translate(40.19,398.60) scale(0.74,1)" font-size="8.2" stroke="#111" stroke-width="0.4">10</text>
<text transform="translate(46.55,394.20) scale(0.9,1)" font-size="6.4" stroke="#111" stroke-width="0.35">0</text>
<text transform="translate(87.84,398.60) scale(0.74,1)" font-size="8.2" stroke="#111" stroke-width="0.4">10</text>
<clipPath id="c41"><rect x="126.35" y="348.05" width="51.70" height="40.55"/></clipPath>
<g clip-path="url(#c41)">
<polygon points="127.75,389.6 127.75,386.10 129.40,384.25 130.60,380.50 131.50,379.25 132.50,381.75 133.75,379.90 134.75,378.60 135.60,379.25 136.50,377.40 137.50,376.10 138.50,378.00 139.40,373.00 140.60,371.10 141.90,370.50 143.10,369.90 144.40,371.10 145.60,370.50 146.90,373.00 148.10,376.10 149.40,379.25 150.60,382.40 152.25,384.90 154.40,386.10 154.40,389.6" fill="#3a3a3a" stroke="#111" stroke-width="0.8" stroke-linejoin="round"/>
<polyline points="130.60,386.10 131.90,381.75 132.75,371.75 133.50,358.00 134.00,348.95 135.00,348.95 136.00,354.25 136.90,348.95 137.75,353.00 138.50,365.50 139.40,376.75 140.60,383.00 143.10,385.50 177.50,386.20" fill="none" stroke="#a0a0a0" stroke-width="1.2" stroke-linejoin="round"/>
</g>
<path d="M126.35,347.30V389.50" stroke="#111" stroke-width="1.5"/>
<path d="M125.60,348.05H178.60" stroke="#111" stroke-width="1.4"/>
<path d="M178.05,348.05V388.60" stroke="#111" stroke-width="1.1"/>
<path d="M126.35,388.60H178.60" stroke="#111" stroke-width="2.0"/>
<line x1="123.55" y1="348.05" x2="126.35" y2="348.05" stroke="#111" stroke-width="1.1"/>
<line x1="123.55" y1="355.96" x2="126.35" y2="355.96" stroke="#111" stroke-width="1.1"/>
<line x1="123.55" y1="363.87" x2="126.35" y2="363.87" stroke="#111" stroke-width="1.1"/>
<line x1="123.55" y1="371.78" x2="126.35" y2="371.78" stroke="#111" stroke-width="1.1"/>
<line x1="123.55" y1="379.69" x2="126.35" y2="379.69" stroke="#111" stroke-width="1.1"/>
<line x1="123.55" y1="387.60" x2="126.35" y2="387.60" stroke="#111" stroke-width="1.1"/>
<line x1="126.35" y1="388.6" x2="126.35" y2="391.0" stroke="#111" stroke-width="0.9"/>
<line x1="130.24" y1="388.6" x2="130.24" y2="389.90000000000003" stroke="#111" stroke-width="0.9"/>
<line x1="132.52" y1="388.6" x2="132.52" y2="389.90000000000003" stroke="#111" stroke-width="0.9"/>
<line x1="134.13" y1="388.6" x2="134.13" y2="389.90000000000003" stroke="#111" stroke-width="0.9"/>
<line x1="135.38" y1="388.6" x2="135.38" y2="389.90000000000003" stroke="#111" stroke-width="0.9"/>
<line x1="136.41" y1="388.6" x2="136.41" y2="389.90000000000003" stroke="#111" stroke-width="0.9"/>
<line x1="137.27" y1="388.6" x2="137.27" y2="389.90000000000003" stroke="#111" stroke-width="0.9"/>
<line x1="138.02" y1="388.6" x2="138.02" y2="389.90000000000003" stroke="#111" stroke-width="0.9"/>
<line x1="138.68" y1="388.6" x2="138.68" y2="389.90000000000003" stroke="#111" stroke-width="0.9"/>
<line x1="139.28" y1="388.6" x2="139.28" y2="391.0" stroke="#111" stroke-width="0.9"/>
<line x1="143.17" y1="388.6" x2="143.17" y2="389.90000000000003" stroke="#111" stroke-width="0.9"/>
<line x1="145.44" y1="388.6" x2="145.44" y2="389.90000000000003" stroke="#111" stroke-width="0.9"/>
<line x1="147.06" y1="388.6" x2="147.06" y2="389.90000000000003" stroke="#111" stroke-width="0.9"/>
<line x1="148.31" y1="388.6" x2="148.31" y2="389.90000000000003" stroke="#111" stroke-width="0.9"/>
<line x1="149.33" y1="388.6" x2="149.33" y2="389.90000000000003" stroke="#111" stroke-width="0.9"/>
<line x1="150.20" y1="388.6" x2="150.20" y2="389.90000000000003" stroke="#111" stroke-width="0.9"/>
<line x1="150.95" y1="388.6" x2="150.95" y2="389.90000000000003" stroke="#111" stroke-width="0.9"/>
<line x1="151.61" y1="388.6" x2="151.61" y2="389.90000000000003" stroke="#111" stroke-width="0.9"/>
<line x1="152.20" y1="388.6" x2="152.20" y2="391.0" stroke="#111" stroke-width="0.9"/>
<line x1="156.09" y1="388.6" x2="156.09" y2="389.90000000000003" stroke="#111" stroke-width="0.9"/>
<line x1="158.37" y1="388.6" x2="158.37" y2="389.90000000000003" stroke="#111" stroke-width="0.9"/>
<line x1="159.98" y1="388.6" x2="159.98" y2="389.90000000000003" stroke="#111" stroke-width="0.9"/>
<line x1="161.23" y1="388.6" x2="161.23" y2="389.90000000000003" stroke="#111" stroke-width="0.9"/>
<line x1="162.26" y1="388.6" x2="162.26" y2="389.90000000000003" stroke="#111" stroke-width="0.9"/>
<line x1="163.12" y1="388.6" x2="163.12" y2="389.90000000000003" stroke="#111" stroke-width="0.9"/>
<line x1="163.87" y1="388.6" x2="163.87" y2="389.90000000000003" stroke="#111" stroke-width="0.9"/>
<line x1="164.53" y1="388.6" x2="164.53" y2="389.90000000000003" stroke="#111" stroke-width="0.9"/>
<line x1="165.12" y1="388.6" x2="165.12" y2="391.0" stroke="#111" stroke-width="0.9"/>
<line x1="169.02" y1="388.6" x2="169.02" y2="389.90000000000003" stroke="#111" stroke-width="0.9"/>
<line x1="171.29" y1="388.6" x2="171.29" y2="389.90000000000003" stroke="#111" stroke-width="0.9"/>
<line x1="172.91" y1="388.6" x2="172.91" y2="389.90000000000003" stroke="#111" stroke-width="0.9"/>
<line x1="174.16" y1="388.6" x2="174.16" y2="389.90000000000003" stroke="#111" stroke-width="0.9"/>
<line x1="175.18" y1="388.6" x2="175.18" y2="389.90000000000003" stroke="#111" stroke-width="0.9"/>
<line x1="176.05" y1="388.6" x2="176.05" y2="389.90000000000003" stroke="#111" stroke-width="0.9"/>
<line x1="176.80" y1="388.6" x2="176.80" y2="389.90000000000003" stroke="#111" stroke-width="0.9"/>
<line x1="177.46" y1="388.6" x2="177.46" y2="389.90000000000003" stroke="#111" stroke-width="0.9"/>
<line x1="178.05" y1="388.6" x2="178.05" y2="391.0" stroke="#111" stroke-width="0.9"/>
<text transform="translate(120.95,348.05) rotate(-90) scale(0.85,1)" font-size="7.4" stroke="#111" stroke-width="0.4" text-anchor="middle">100</text>
<text transform="translate(120.45,387.50) rotate(-90) scale(0.85,1)" font-size="7.4" stroke="#111" stroke-width="0.4" text-anchor="middle">0</text>
<text transform="translate(122.39,399.80) scale(0.74,1)" font-size="8.2" stroke="#111" stroke-width="0.4">10</text>
<text transform="translate(128.75,395.40) scale(0.9,1)" font-size="6.4" stroke="#111" stroke-width="0.35">0</text>
<text transform="translate(171.64,399.80) scale(0.74,1)" font-size="8.2" stroke="#111" stroke-width="0.4">10</text>
<text transform="translate(179.55,395.40) scale(0.9,1)" font-size="6.4" stroke="#111" stroke-width="0.35">4</text>
<clipPath id="c42"><rect x="207.95" y="346.35" width="53.80" height="43.95"/></clipPath>
<g clip-path="url(#c42)">
<polygon points="211.00,391.3 211.00,388.00 213.00,386.50 216.00,387.00 219.00,386.20 222.00,387.00 226.40,386.60 227.60,384.75 228.90,382.25 230.10,378.50 231.40,374.75 232.25,369.75 233.00,366.60 233.90,369.10 235.10,370.40 236.40,369.10 237.60,367.90 238.90,369.75 240.10,372.90 241.40,374.10 242.60,375.40 243.90,378.50 245.10,382.25 247.00,383.50 248.90,382.90 250.10,384.10 251.40,386.00 253.25,387.50 255.00,388.00 255.00,391.3" fill="#3a3a3a" stroke="#111" stroke-width="0.8" stroke-linejoin="round"/>
<polyline points="209.75,387.25 209.75,366.00 210.75,376.00 212.00,368.50 213.00,362.25 214.25,357.25 215.50,354.75 216.75,355.40 217.60,358.50 218.90,364.75 220.10,371.00 221.40,376.60 223.00,382.25 225.10,386.00 228.25,387.30 260.50,387.40" fill="none" stroke="#a0a0a0" stroke-width="1.2" stroke-linejoin="round"/>
</g>
<path d="M207.95,345.60V391.20" stroke="#111" stroke-width="1.5"/>
<path d="M207.20,346.35H262.30" stroke="#111" stroke-width="1.4"/>
<path d="M261.75,346.35V390.30" stroke="#111" stroke-width="1.1"/>
<path d="M207.95,390.30H262.30" stroke="#111" stroke-width="2.0"/>
<line x1="205.15" y1="346.35" x2="207.95" y2="346.35" stroke="#111" stroke-width="1.1"/>
<line x1="205.15" y1="354.94" x2="207.95" y2="354.94" stroke="#111" stroke-width="1.1"/>
<line x1="205.15" y1="363.53" x2="207.95" y2="363.53" stroke="#111" stroke-width="1.1"/>
<line x1="205.15" y1="372.12" x2="207.95" y2="372.12" stroke="#111" stroke-width="1.1"/>
<line x1="205.15" y1="380.71" x2="207.95" y2="380.71" stroke="#111" stroke-width="1.1"/>
<line x1="205.15" y1="389.30" x2="207.95" y2="389.30" stroke="#111" stroke-width="1.1"/>
<line x1="207.95" y1="390.3" x2="207.95" y2="392.7" stroke="#111" stroke-width="0.9"/>
<line x1="212.00" y1="390.3" x2="212.00" y2="391.6" stroke="#111" stroke-width="0.9"/>
<line x1="214.37" y1="390.3" x2="214.37" y2="391.6" stroke="#111" stroke-width="0.9"/>
<line x1="216.05" y1="390.3" x2="216.05" y2="391.6" stroke="#111" stroke-width="0.9"/>
<line x1="217.35" y1="390.3" x2="217.35" y2="391.6" stroke="#111" stroke-width="0.9"/>
<line x1="218.42" y1="390.3" x2="218.42" y2="391.6" stroke="#111" stroke-width="0.9"/>
<line x1="219.32" y1="390.3" x2="219.32" y2="391.6" stroke="#111" stroke-width="0.9"/>
<line x1="220.10" y1="390.3" x2="220.10" y2="391.6" stroke="#111" stroke-width="0.9"/>
<line x1="220.78" y1="390.3" x2="220.78" y2="391.6" stroke="#111" stroke-width="0.9"/>
<line x1="221.40" y1="390.3" x2="221.40" y2="392.7" stroke="#111" stroke-width="0.9"/>
<line x1="225.45" y1="390.3" x2="225.45" y2="391.6" stroke="#111" stroke-width="0.9"/>
<line x1="227.82" y1="390.3" x2="227.82" y2="391.6" stroke="#111" stroke-width="0.9"/>
<line x1="229.50" y1="390.3" x2="229.50" y2="391.6" stroke="#111" stroke-width="0.9"/>
<line x1="230.80" y1="390.3" x2="230.80" y2="391.6" stroke="#111" stroke-width="0.9"/>
<line x1="231.87" y1="390.3" x2="231.87" y2="391.6" stroke="#111" stroke-width="0.9"/>
<line x1="232.77" y1="390.3" x2="232.77" y2="391.6" stroke="#111" stroke-width="0.9"/>
<line x1="233.55" y1="390.3" x2="233.55" y2="391.6" stroke="#111" stroke-width="0.9"/>
<line x1="234.23" y1="390.3" x2="234.23" y2="391.6" stroke="#111" stroke-width="0.9"/>
<line x1="234.85" y1="390.3" x2="234.85" y2="392.7" stroke="#111" stroke-width="0.9"/>
<line x1="238.90" y1="390.3" x2="238.90" y2="391.6" stroke="#111" stroke-width="0.9"/>
<line x1="241.27" y1="390.3" x2="241.27" y2="391.6" stroke="#111" stroke-width="0.9"/>
<line x1="242.95" y1="390.3" x2="242.95" y2="391.6" stroke="#111" stroke-width="0.9"/>
<line x1="244.25" y1="390.3" x2="244.25" y2="391.6" stroke="#111" stroke-width="0.9"/>
<line x1="245.32" y1="390.3" x2="245.32" y2="391.6" stroke="#111" stroke-width="0.9"/>
<line x1="246.22" y1="390.3" x2="246.22" y2="391.6" stroke="#111" stroke-width="0.9"/>
<line x1="247.00" y1="390.3" x2="247.00" y2="391.6" stroke="#111" stroke-width="0.9"/>
<line x1="247.68" y1="390.3" x2="247.68" y2="391.6" stroke="#111" stroke-width="0.9"/>
<line x1="248.30" y1="390.3" x2="248.30" y2="392.7" stroke="#111" stroke-width="0.9"/>
<line x1="252.35" y1="390.3" x2="252.35" y2="391.6" stroke="#111" stroke-width="0.9"/>
<line x1="254.72" y1="390.3" x2="254.72" y2="391.6" stroke="#111" stroke-width="0.9"/>
<line x1="256.40" y1="390.3" x2="256.40" y2="391.6" stroke="#111" stroke-width="0.9"/>
<line x1="257.70" y1="390.3" x2="257.70" y2="391.6" stroke="#111" stroke-width="0.9"/>
<line x1="258.77" y1="390.3" x2="258.77" y2="391.6" stroke="#111" stroke-width="0.9"/>
<line x1="259.67" y1="390.3" x2="259.67" y2="391.6" stroke="#111" stroke-width="0.9"/>
<line x1="260.45" y1="390.3" x2="260.45" y2="391.6" stroke="#111" stroke-width="0.9"/>
<line x1="261.13" y1="390.3" x2="261.13" y2="391.6" stroke="#111" stroke-width="0.9"/>
<line x1="261.75" y1="390.3" x2="261.75" y2="392.7" stroke="#111" stroke-width="0.9"/>
<text transform="translate(202.55,346.35) rotate(-90) scale(0.85,1)" font-size="7.4" stroke="#111" stroke-width="0.4" text-anchor="middle">100</text>
<text transform="translate(202.05,389.20) rotate(-90) scale(0.85,1)" font-size="7.4" stroke="#111" stroke-width="0.4" text-anchor="middle">0</text>
<text transform="translate(203.99,401.50) scale(0.74,1)" font-size="8.2" stroke="#111" stroke-width="0.4">10</text>
<text transform="translate(210.35,397.10) scale(0.9,1)" font-size="6.4" stroke="#111" stroke-width="0.35">0</text>
<text transform="translate(255.34,401.50) scale(0.74,1)" font-size="8.2" stroke="#111" stroke-width="0.4">10</text>
<text transform="translate(263.25,397.10) scale(0.9,1)" font-size="6.4" stroke="#111" stroke-width="0.35">4</text>
</g>
<rect x="284.05" y="65.8" width="71.80" height="10.80" fill="#fff" stroke="#000" stroke-width="2.1"/>
<line x1="356.9" y1="71" x2="376" y2="71" stroke="#000" stroke-width="1.8"/>
<line x1="375.0" y1="67.5" x2="375.0" y2="73.75" stroke="#000" stroke-width="2.0"/>
<rect x="283" y="80.2" width="42.60" height="12.70" fill="#000"/>
<line x1="325.6" y1="86.3" x2="345.3" y2="86.3" stroke="#000" stroke-width="1.8"/>
<line x1="344.3" y1="83" x2="344.3" y2="89.4" stroke="#000" stroke-width="2.0"/>
<path d="M352.50,86.50l0.00,-3.20M352.50,86.50l-3.04,-0.99M352.50,86.50l-1.88,2.59M352.50,86.50l1.88,2.59M352.50,86.50l3.04,-0.99" stroke="#000" stroke-width="2.2" stroke-linecap="round" fill="none"/>
<line x1="283" y1="103.45" x2="385.6" y2="103.45" stroke="#000" stroke-width="1.9"/>
<line x1="283.70" y1="102.5" x2="283.70" y2="108.0" stroke="#000" stroke-width="1.5"/>
<line x1="309.00" y1="102.5" x2="309.00" y2="108.0" stroke="#000" stroke-width="1.5"/>
<line x1="334.30" y1="102.5" x2="334.30" y2="108.0" stroke="#000" stroke-width="1.5"/>
<line x1="359.60" y1="102.5" x2="359.60" y2="108.0" stroke="#000" stroke-width="1.5"/>
<line x1="384.90" y1="102.5" x2="384.90" y2="108.0" stroke="#000" stroke-width="1.5"/>
<rect x="400.05" y="65.8" width="65.65" height="10.80" fill="#fff" stroke="#000" stroke-width="2.1"/>
<line x1="466.75" y1="71" x2="500.5" y2="71" stroke="#000" stroke-width="1.8"/>
<line x1="499.5" y1="66.2" x2="499.5" y2="73.75" stroke="#000" stroke-width="2.0"/>
<rect x="399" y="80.6" width="54.10" height="13.15" fill="#000"/>
<line x1="453.1" y1="85.6" x2="478.6" y2="85.6" stroke="#000" stroke-width="1.8"/>
<line x1="477.6" y1="82.0" x2="477.6" y2="88.6" stroke="#000" stroke-width="2.0"/>
<line x1="399" y1="104.05" x2="505.8" y2="104.05" stroke="#000" stroke-width="1.9"/>
<line x1="399.70" y1="103.1" x2="399.70" y2="108.6" stroke="#000" stroke-width="1.5"/>
<line x1="420.78" y1="103.1" x2="420.78" y2="108.6" stroke="#000" stroke-width="1.5"/>
<line x1="441.86" y1="103.1" x2="441.86" y2="108.6" stroke="#000" stroke-width="1.5"/>
<line x1="462.94" y1="103.1" x2="462.94" y2="108.6" stroke="#000" stroke-width="1.5"/>
<line x1="484.02" y1="103.1" x2="484.02" y2="108.6" stroke="#000" stroke-width="1.5"/>
<line x1="505.10" y1="103.1" x2="505.10" y2="108.6" stroke="#000" stroke-width="1.5"/>
<text x="498.47" y="122.1" font-size="10.8" font-weight="normal" stroke="#111" stroke-width="0.3">500</text>
<rect x="280.8" y="134.35000000000002" width="73.15" height="10.80" fill="#fff" stroke="#000" stroke-width="2.1"/>
<line x1="355" y1="137.9" x2="383.8" y2="137.9" stroke="#000" stroke-width="1.8"/>
<line x1="382.8" y1="134.25" x2="382.8" y2="140.8" stroke="#000" stroke-width="2.0"/>
<rect x="280" y="148.6" width="44.00" height="12.50" fill="#000"/>
<line x1="324" y1="154.3" x2="331" y2="154.3" stroke="#000" stroke-width="1.8"/>
<line x1="330.0" y1="151" x2="330.0" y2="157.4" stroke="#000" stroke-width="2.0"/>
<path d="M340.00,155.00l0.00,-3.20M340.00,155.00l-3.04,-0.99M340.00,155.00l-1.88,2.59M340.00,155.00l1.88,2.59M340.00,155.00l3.04,-0.99" stroke="#000" stroke-width="2.2" stroke-linecap="round" fill="none"/>
<line x1="279.75" y1="171.45" x2="383.8" y2="171.45" stroke="#000" stroke-width="1.9"/>
<line x1="280.45" y1="170.5" x2="280.45" y2="176.0" stroke="#000" stroke-width="1.5"/>
<line x1="306.11" y1="170.5" x2="306.11" y2="176.0" stroke="#000" stroke-width="1.5"/>
<line x1="331.77" y1="170.5" x2="331.77" y2="176.0" stroke="#000" stroke-width="1.5"/>
<line x1="357.44" y1="170.5" x2="357.44" y2="176.0" stroke="#000" stroke-width="1.5"/>
<line x1="383.10" y1="170.5" x2="383.10" y2="176.0" stroke="#000" stroke-width="1.5"/>
<rect x="399.3" y="134.05" width="65.65" height="10.90" fill="#fff" stroke="#000" stroke-width="2.1"/>
<line x1="466" y1="138.8" x2="498.6" y2="138.8" stroke="#000" stroke-width="1.8"/>
<line x1="497.6" y1="135.4" x2="497.6" y2="141.9" stroke="#000" stroke-width="2.0"/>
<rect x="398.25" y="148.25" width="53.75" height="13.00" fill="#000"/>
<line x1="452" y1="154.1" x2="473.7" y2="154.1" stroke="#000" stroke-width="1.8"/>
<line x1="472.7" y1="151" x2="472.7" y2="157.7" stroke="#000" stroke-width="2.0"/>
<line x1="398.25" y1="171.7" x2="504.6" y2="171.7" stroke="#000" stroke-width="1.9"/>
<line x1="398.95" y1="170.75" x2="398.95" y2="176.25" stroke="#000" stroke-width="1.5"/>
<line x1="419.94" y1="170.75" x2="419.94" y2="176.25" stroke="#000" stroke-width="1.5"/>
<line x1="440.93" y1="170.75" x2="440.93" y2="176.25" stroke="#000" stroke-width="1.5"/>
<line x1="461.92" y1="170.75" x2="461.92" y2="176.25" stroke="#000" stroke-width="1.5"/>
<line x1="482.91" y1="170.75" x2="482.91" y2="176.25" stroke="#000" stroke-width="1.5"/>
<line x1="503.90" y1="170.75" x2="503.90" y2="176.25" stroke="#000" stroke-width="1.5"/>
<text x="498.47" y="188.5" font-size="10.8" font-weight="normal" stroke="#111" stroke-width="0.3">500</text>
<rect x="280.45" y="206.55" width="102.25" height="10.40" fill="#fff" stroke="#000" stroke-width="2.1"/>
<path d="M279.4,220.4H383.2L384.3,221.6V224.6L385,226.6L384.3,228.6V231.6L383.2,232.7H279.4Z" fill="#000"/>
<line x1="279.5" y1="242.64999999999998" x2="383.75" y2="242.64999999999998" stroke="#000" stroke-width="1.9"/>
<line x1="280.20" y1="241.7" x2="280.20" y2="247.2" stroke="#000" stroke-width="1.5"/>
<line x1="305.91" y1="241.7" x2="305.91" y2="247.2" stroke="#000" stroke-width="1.5"/>
<line x1="331.62" y1="241.7" x2="331.62" y2="247.2" stroke="#000" stroke-width="1.5"/>
<line x1="357.34" y1="241.7" x2="357.34" y2="247.2" stroke="#000" stroke-width="1.5"/>
<line x1="383.05" y1="241.7" x2="383.05" y2="247.2" stroke="#000" stroke-width="1.5"/>
<rect x="397.55" y="206.3" width="63.40" height="10.45" fill="#fff" stroke="#000" stroke-width="2.1"/>
<line x1="462" y1="211" x2="496.6" y2="211" stroke="#000" stroke-width="1.8"/>
<line x1="495.6" y1="207" x2="495.6" y2="214.5" stroke="#000" stroke-width="2.0"/>
<rect x="396.5" y="220.25" width="25.40" height="11.75" fill="#000"/>
<line x1="421.9" y1="225.6" x2="432.9" y2="225.6" stroke="#000" stroke-width="1.8"/>
<line x1="431.9" y1="222.3" x2="431.9" y2="229.2" stroke="#000" stroke-width="2.0"/>
<path d="M441.90,227.30l0.00,-3.20M441.90,227.30l-3.04,-0.99M441.90,227.30l-1.88,2.59M441.90,227.30l1.88,2.59M441.90,227.30l3.04,-0.99" stroke="#000" stroke-width="2.2" stroke-linecap="round" fill="none"/>
<line x1="396.5" y1="241.45" x2="503.3" y2="241.45" stroke="#000" stroke-width="1.9"/>
<line x1="397.20" y1="240.5" x2="397.20" y2="246.0" stroke="#000" stroke-width="1.5"/>
<line x1="432.33" y1="240.5" x2="432.33" y2="246.0" stroke="#000" stroke-width="1.5"/>
<line x1="467.47" y1="240.5" x2="467.47" y2="246.0" stroke="#000" stroke-width="1.5"/>
<line x1="502.60" y1="240.5" x2="502.60" y2="246.0" stroke="#000" stroke-width="1.5"/>
<text x="493.69" y="260.4" font-size="10.8" font-weight="normal" stroke="#111" stroke-width="0.3">3000</text>
<rect x="279.15000000000003" y="277.65000000000003" width="60.60" height="10.90" fill="#fff" stroke="#000" stroke-width="2.1"/>
<line x1="340.8" y1="282.7" x2="366.7" y2="282.7" stroke="#000" stroke-width="1.8"/>
<line x1="365.7" y1="279.3" x2="365.7" y2="286.2" stroke="#000" stroke-width="2.0"/>
<rect x="278" y="293.5" width="11.75" height="13.75" fill="#000"/>
<line x1="289.75" y1="300.6" x2="295.8" y2="300.6" stroke="#000" stroke-width="1.8"/>
<line x1="294.8" y1="297" x2="294.8" y2="303.25" stroke="#000" stroke-width="2.0"/>
<path d="M303.60,301.90l0.00,-3.20M303.60,301.90l-3.04,-0.99M303.60,301.90l-1.88,2.59M303.60,301.90l1.88,2.59M303.60,301.90l3.04,-0.99" stroke="#000" stroke-width="2.2" stroke-linecap="round" fill="none"/>
<line x1="278.4" y1="318.2" x2="383.8" y2="318.2" stroke="#000" stroke-width="1.9"/>
<line x1="279.10" y1="317.25" x2="279.10" y2="322.75" stroke="#000" stroke-width="1.5"/>
<line x1="305.10" y1="317.25" x2="305.10" y2="322.75" stroke="#000" stroke-width="1.5"/>
<line x1="331.10" y1="317.25" x2="331.10" y2="322.75" stroke="#000" stroke-width="1.5"/>
<line x1="357.10" y1="317.25" x2="357.10" y2="322.75" stroke="#000" stroke-width="1.5"/>
<line x1="383.10" y1="317.25" x2="383.10" y2="322.75" stroke="#000" stroke-width="1.5"/>
<rect x="398.3" y="277.45" width="42.90" height="10.40" fill="#fff" stroke="#000" stroke-width="2.1"/>
<line x1="442.25" y1="282.3" x2="465.3" y2="282.3" stroke="#000" stroke-width="1.8"/>
<line x1="464.3" y1="279.5" x2="464.3" y2="285.3" stroke="#000" stroke-width="2.0"/>
<line x1="427.9" y1="288.8" x2="427.9" y2="291.4" stroke="#666" stroke-width="0.7"/>
<rect x="397" y="291.3" width="53.80" height="12.80" fill="#000"/>
<line x1="451" y1="297.3" x2="485.3" y2="297.3" stroke="#000" stroke-width="1.8"/>
<line x1="484.3" y1="293.75" x2="484.3" y2="300.5" stroke="#000" stroke-width="2.0"/>
<line x1="397.3" y1="318.2" x2="504.6" y2="318.2" stroke="#000" stroke-width="1.9"/>
<line x1="398.00" y1="317.25" x2="398.00" y2="322.75" stroke="#000" stroke-width="1.5"/>
<line x1="433.30" y1="317.25" x2="433.30" y2="322.75" stroke="#000" stroke-width="1.5"/>
<line x1="468.60" y1="317.25" x2="468.60" y2="322.75" stroke="#000" stroke-width="1.5"/>
<line x1="503.90" y1="317.25" x2="503.90" y2="322.75" stroke="#000" stroke-width="1.5"/>
<text x="496.88" y="335.9" font-size="10.8" font-weight="normal" stroke="#111" stroke-width="0.3">150</text>
<rect x="279.05" y="348.95" width="83.30" height="10.30" fill="#fff" stroke="#000" stroke-width="2.1"/>
<line x1="363.4" y1="353.6" x2="384" y2="353.6" stroke="#000" stroke-width="1.8"/>
<line x1="383.0" y1="350.5" x2="383.0" y2="357" stroke="#000" stroke-width="2.0"/>
<rect x="278" y="363.5" width="67.00" height="12.10" fill="#000"/>
<line x1="345" y1="369" x2="361" y2="369" stroke="#000" stroke-width="1.8"/>
<line x1="360.0" y1="366" x2="360.0" y2="372.2" stroke="#000" stroke-width="2.0"/>
<line x1="278" y1="385.95" x2="383.8" y2="385.95" stroke="#000" stroke-width="1.9"/>
<line x1="278.70" y1="385" x2="278.70" y2="390.5" stroke="#000" stroke-width="1.5"/>
<line x1="304.80" y1="385" x2="304.80" y2="390.5" stroke="#000" stroke-width="1.5"/>
<line x1="330.90" y1="385" x2="330.90" y2="390.5" stroke="#000" stroke-width="1.5"/>
<line x1="357.00" y1="385" x2="357.00" y2="390.5" stroke="#000" stroke-width="1.5"/>
<line x1="383.10" y1="385" x2="383.10" y2="390.5" stroke="#000" stroke-width="1.5"/>
<rect x="398.05" y="349.05" width="53.90" height="9.90" fill="#fff" stroke="#000" stroke-width="2.1"/>
<line x1="453" y1="353" x2="491.6" y2="353" stroke="#000" stroke-width="1.8"/>
<line x1="490.6" y1="350" x2="490.6" y2="356.25" stroke="#000" stroke-width="2.0"/>
<rect x="397" y="363" width="27.25" height="11.50" fill="#000"/>
<line x1="424.25" y1="368.5" x2="437" y2="368.5" stroke="#000" stroke-width="1.8"/>
<line x1="436.0" y1="366.25" x2="436.0" y2="372.5" stroke="#000" stroke-width="2.0"/>
<line x1="396.8" y1="386.95" x2="503.8" y2="386.95" stroke="#000" stroke-width="1.9"/>
<line x1="397.50" y1="386" x2="397.50" y2="391.5" stroke="#000" stroke-width="1.5"/>
<line x1="423.90" y1="386" x2="423.90" y2="391.5" stroke="#000" stroke-width="1.5"/>
<line x1="450.30" y1="386" x2="450.30" y2="391.5" stroke="#000" stroke-width="1.5"/>
<line x1="476.70" y1="386" x2="476.70" y2="391.5" stroke="#000" stroke-width="1.5"/>
<line x1="503.10" y1="386" x2="503.10" y2="391.5" stroke="#000" stroke-width="1.5"/>
<text x="276.28" y="400.9" font-size="10.8" font-weight="normal" stroke="#111" stroke-width="0.3">0</text>
<text x="372.78" y="403.3" font-size="10.8" font-weight="normal" stroke="#111" stroke-width="0.3">100</text>
<text x="398.18" y="403.3" font-size="10.8" font-weight="normal" stroke="#111" stroke-width="0.3">0</text>
<text x="495.15" y="403.4" font-size="10.8" font-weight="normal" stroke="#111" stroke-width="0.3">400</text>
</svg>
</body></html>
